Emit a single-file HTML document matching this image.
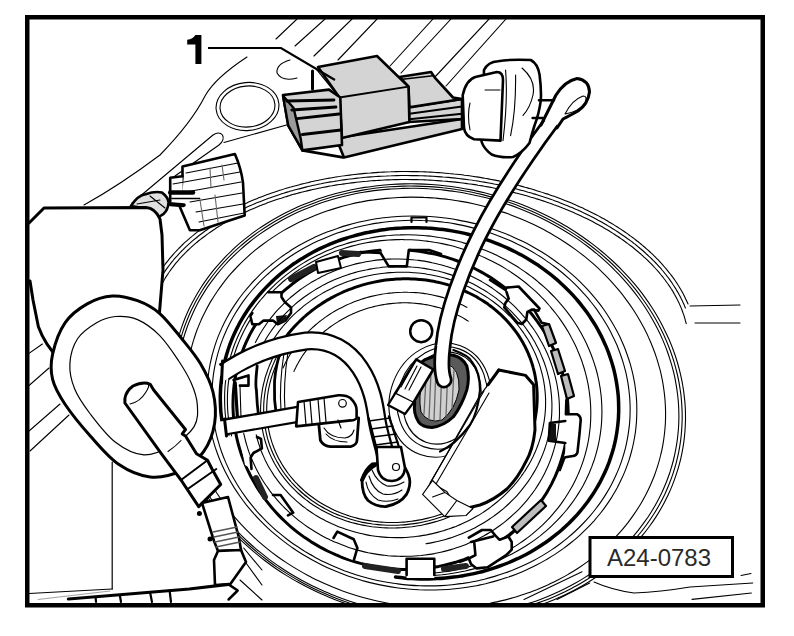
<!DOCTYPE html>
<html><head><meta charset="utf-8">
<style>
html,body{margin:0;padding:0;background:#fff;}
body{width:794px;height:636px;overflow:hidden;position:relative;}
svg{position:absolute;left:0;top:0;}
</style></head><body>
<svg width="794" height="636" viewBox="0 0 794 636">
<defs><clipPath id="cp"><rect x="29" y="19" width="732" height="585"/></clipPath></defs>
<g fill="none" stroke="#000" stroke-linecap="round" stroke-linejoin="round" clip-path="url(#cp)">
<g id="panel" stroke-width="1.1">
<path d="M247 57 Q215 78 205 96 Q192 122 160 155 Q120 185 84 205"/>
<path d="M132 203 L213 135 Q219 131 222.5 135 Q225 140 219 145 L175 176"/>
<ellipse cx="247.5" cy="106.5" rx="31.5" ry="24" transform="rotate(-5 247.5 106.5)"/>
<ellipse cx="247.5" cy="106.5" rx="27.5" ry="20.5" transform="rotate(-5 247.5 106.5)"/>
<path d="M290 60 Q276 64 277 73 Q282 82 297 78"/>
<path d="M224 142.5 L290 124"/>
<path d="M276 39 L297 19 M295 46 L325 19 M314 56 L352 19 M338 60 L377 19 M390 66 L433 19 M401 73 L451 19 M434 78 L489 19 M446 86 L506 19"/>
<path d="M29 353.4 L42.4 344 M29 385.5 L49 368 M29 431 L60 404 M30 451 L69 415"/>
<path d="M690 306 L740 305 M695 323 L740 323"/>
<path d="M594 582 Q612 590 634 593 Q660 592 690 587 L752.7 583"/>
<path d="M692 599.4 L751.4 593 M741 575.5 L751 573.5"/>
<path d="M524 599.4 L582 571.7 M557 599.4 L589.7 583"/>
<path d="M411.5 222 L411.5 217.5 L426.5 217.5 L426.5 222" stroke-width="2.2"/>
</g>

<g stroke-width="1.1">
<path d="M149.7 291.4 C149.9 290.9 150.6 289.4 151 288.4 C151.4 287.4 151.9 286.4 152.4 285.4 C152.8 284.4 153.3 283.4 153.8 282.4 C154.3 281.4 154.9 280.4 155.4 279.4 C155.9 278.5 156.5 277.5 157.1 276.5 C157.6 275.5 158.2 274.5 158.8 273.6 C159.4 272.6 160 271.6 160.7 270.7 C161.3 269.7 161.9 268.8 162.6 267.8 C163.3 266.9 163.9 265.9 164.6 265 C165.3 264 166 263.1 166.8 262.1 C167.5 261.2 168.2 260.3 169 259.3 C169.7 258.4 170.5 257.5 171.3 256.6 C172.1 255.7 172.9 254.8 173.7 253.8 C174.5 252.9 175.3 252 176.2 251.1 C177 250.2 177.9 249.4 178.7 248.5 C179.6 247.6 180.5 246.7 181.4 245.8 C182.3 244.9 183.2 244.1 184.1 243.2 C185.1 242.3 186 241.5 187 240.6 C187.9 239.8 188.9 238.9 189.9 238.1 C190.9 237.3 191.8 236.4 192.9 235.6 C193.9 234.8 194.9 233.9 195.9 233.1 C197 232.3 198 231.5 199.1 230.7 C200.2 229.9 201.2 229.1 202.3 228.3 C203.4 227.5 204.5 226.7 205.6 225.9 C206.8 225.2 207.9 224.4 209 223.6 C210.2 222.9 211.3 222.1 212.5 221.4 C213.7 220.6 214.8 219.9 216 219.1 C217.2 218.4 218.4 217.7 219.6 216.9 C220.9 216.2 222.1 215.5 223.3 214.8 C224.6 214.1 225.8 213.4 227.1 212.7 C228.3 212 229.6 211.3 230.9 210.7 C232.2 210 233.5 209.3 234.8 208.6 C236.1 208 237.4 207.3 238.8 206.7 C240.1 206 241.4 205.4 242.8 204.8 C244.1 204.1 245.5 203.5 246.9 202.9 C248.2 202.3 249.6 201.7 251 201.1 C252.4 200.5 253.8 199.9 255.2 199.3 C256.6 198.7 258.1 198.2 259.5 197.6 C260.9 197 262.4 196.5 263.8 195.9 C265.3 195.4 266.7 194.8 268.2 194.3 C269.7 193.8 271.1 193.2 272.6 192.7 C274.1 192.2 275.6 191.7 277.1 191.2 C278.6 190.7 280.1 190.2 281.7 189.8 C283.2 189.3 284.7 188.8 286.3 188.3 C287.8 187.9 289.3 187.4 290.9 187 C292.4 186.5 294 186.1 295.6 185.7 C297.1 185.3 298.7 184.9 300.3 184.4 C301.9 184 303.5 183.6 305.1 183.3 C306.7 182.9 308.3 182.5 309.9 182.1 C311.5 181.7 313.1 181.4 314.7 181 C316.4 180.7 318 180.3 319.6 180 C321.3 179.7 322.9 179.4 324.6 179 C326.2 178.7 327.9 178.4 329.5 178.1 C331.2 177.8 332.8 177.6 334.5 177.3 C336.2 177 337.9 176.7 339.5 176.5 C341.2 176.2 342.9 176 344.6 175.8 C346.3 175.5 348 175.3 349.7 175.1 C351.4 174.9 353.1 174.7 354.8 174.5 C356.5 174.3 358.2 174.1 359.9 173.9 C361.6 173.7 363.3 173.6 365 173.4 C366.8 173.2 368.5 173.1 370.2 173 C371.9 172.8 373.7 172.7 375.4 172.6 C377.1 172.5 378.9 172.3 380.6 172.2 C382.3 172.1 384.1 172.1 385.8 172 C387.5 171.9 389.3 171.8 391 171.8 C392.8 171.7 394.5 171.7 396.3 171.6 C398 171.6 399.8 171.6 401.5 171.5 C403.3 171.5 405 171.5 406.8 171.5 C408.5 171.5 410.3 171.5 412 171.6 C413.8 171.6 415.5 171.6 417.3 171.6 C419 171.7 420.8 171.7 422.5 171.8 C424.3 171.9 426 171.9 427.8 172 C429.6 172.1 431.3 172.2 433.1 172.3 C434.8 172.4 436.6 172.5 438.3 172.6 C440.1 172.7 441.8 172.9 443.5 173 C445.3 173.1 447 173.3 448.8 173.5 C450.5 173.6 452.3 173.8 454 174 C455.7 174.1 457.5 174.3 459.2 174.5 C461 174.7 462.7 174.9 464.4 175.2 C466.1 175.4 467.9 175.6 469.6 175.8 C471.3 176.1 473 176.3 474.8 176.6 C476.5 176.8 478.2 177.1 479.9 177.4 C481.6 177.7 483.3 178 485 178.3 C486.7 178.5 488.4 178.9 490.1 179.2 C491.8 179.5 493.5 179.8 495.2 180.1 C496.9 180.5 498.6 180.8 500.2 181.2 C501.9 181.5 503.6 181.9 505.3 182.3 C506.9 182.6 508.6 183 510.2 183.4 C511.9 183.8 513.6 184.2 515.2 184.6 C516.8 185 518.5 185.4 520.1 185.9 C521.8 186.3 523.4 186.7 525 187.2 C526.6 187.6 528.2 188.1 529.8 188.5 C531.5 189 533.1 189.5 534.7 189.9 C536.2 190.4 537.8 190.9 539.4 191.4 C541 191.9 542.6 192.4 544.1 192.9 C545.7 193.4 547.3 194 548.8 194.5 C550.4 195 551.9 195.6 553.4 196.1 C555 196.7 556.5 197.2 558 197.8 C559.5 198.4 561 199 562.5 199.5 C564 200.1 565.5 200.7 567 201.3 C568.5 201.9 570 202.5 571.5 203.1 C572.9 203.8 574.4 204.4 575.8 205 C577.3 205.6 578.7 206.3 580.1 206.9 C581.6 207.6 583 208.2 584.4 208.9 C585.8 209.6 587.2 210.2 588.6 210.9 C590 211.6 591.4 212.3 592.7 213 C594.1 213.7 595.5 214.4 596.8 215.1 C598.2 215.8 599.5 216.5 600.8 217.2 C602.1 218 603.5 218.7 604.8 219.4 C606.1 220.2 607.4 220.9 608.6 221.7 C609.9 222.4 611.2 223.2 612.5 223.9 C613.7 224.7 615 225.5 616.2 226.3 C617.4 227 618.7 227.8 619.9 228.6 C621.1 229.4 622.3 230.2 623.5 231 C624.6 231.8 625.8 232.6 627 233.4 C628.1 234.3 629.3 235.1 630.4 235.9 C631.6 236.7 632.7 237.6 633.8 238.4 C634.9 239.3 636 240.1 637.1 241 C638.2 241.8 639.3 242.7 640.3 243.5 C641.4 244.4 642.4 245.3 643.5 246.2 C644.5 247 645.5 247.9 646.5 248.8 C647.5 249.7 648.5 250.6 649.5 251.5 C650.5 252.4 651.4 253.3 652.4 254.2 C653.3 255.1 654.3 256 655.2 256.9 C656.1 257.9 657 258.8 657.9 259.7 C658.8 260.6 659.7 261.6 660.6 262.5 C661.4 263.4 662.3 264.4 663.1 265.3 C664 266.3 664.8 267.2 665.6 268.2 C666.4 269.1 667.2 270.1 668 271.1 C668.7 272 669.5 273 670.3 274 C671 274.9 671.7 275.9 672.5 276.9 C673.2 277.9 673.9 278.8 674.6 279.8 C675.2 280.8 675.9 281.8 676.6 282.8 C677.2 283.8 677.9 284.8 678.5 285.8 C679.1 286.8 679.7 287.8 680.3 288.8 C680.9 289.8 681.5 290.8 682.1 291.8 C682.6 292.8 683.2 293.8 683.7 294.8 C684.2 295.8 684.7 296.9 685.2 297.9 C685.7 298.9 686.2 299.9 686.7 300.9 C687.2 302 687.8 303.5 688.1 304"/>
<path d="M153.6 292.4 C153.8 291.9 154.4 290.4 154.9 289.5 C155.3 288.5 155.7 287.5 156.2 286.5 C156.7 285.6 157.2 284.6 157.7 283.6 C158.2 282.7 158.7 281.7 159.2 280.7 C159.7 279.8 160.3 278.8 160.8 277.9 C161.4 276.9 162 276 162.6 275 C163.1 274.1 163.8 273.1 164.4 272.2 C165 271.2 165.6 270.3 166.3 269.4 C166.9 268.5 167.6 267.5 168.3 266.6 C169 265.7 169.7 264.8 170.4 263.9 C171.1 262.9 171.8 262 172.6 261.1 C173.3 260.2 174.1 259.3 174.8 258.4 C175.6 257.5 176.4 256.6 177.2 255.8 C178 254.9 178.8 254 179.6 253.1 C180.5 252.2 181.3 251.4 182.2 250.5 C183 249.6 183.9 248.8 184.8 247.9 C185.7 247.1 186.6 246.2 187.5 245.4 C188.4 244.5 189.3 243.7 190.3 242.9 C191.2 242 192.2 241.2 193.1 240.4 C194.1 239.6 195.1 238.8 196.1 238 C197.1 237.1 198.1 236.3 199.1 235.5 C200.1 234.8 201.2 234 202.2 233.2 C203.3 232.4 204.3 231.6 205.4 230.8 C206.5 230.1 207.6 229.3 208.7 228.6 C209.8 227.8 210.9 227 212 226.3 C213.1 225.6 214.3 224.8 215.4 224.1 C216.6 223.3 217.7 222.6 218.9 221.9 C220.1 221.2 221.3 220.5 222.5 219.8 C223.7 219.1 224.9 218.4 226.1 217.7 C227.3 217 228.6 216.3 229.8 215.6 C231 215 232.3 214.3 233.6 213.6 C234.8 213 236.1 212.3 237.4 211.7 C238.7 211 240 210.4 241.3 209.8 C242.6 209.1 243.9 208.5 245.3 207.9 C246.6 207.3 247.9 206.7 249.3 206.1 C250.7 205.5 252 204.9 253.4 204.3 C254.8 203.7 256.1 203.1 257.5 202.6 C258.9 202 260.3 201.4 261.7 200.9 C263.2 200.3 264.6 199.8 266 199.3 C267.4 198.7 268.9 198.2 270.3 197.7 C271.8 197.2 273.2 196.7 274.7 196.2 C276.2 195.7 277.6 195.2 279.1 194.7 C280.6 194.2 282.1 193.7 283.6 193.3 C285.1 192.8 286.6 192.3 288.1 191.9 C289.6 191.4 291.2 191 292.7 190.6 C294.2 190.1 295.8 189.7 297.3 189.3 C298.8 188.9 300.4 188.5 302 188.1 C303.5 187.7 305.1 187.3 306.7 186.9 C308.2 186.5 309.8 186.2 311.4 185.8 C313 185.5 314.6 185.1 316.2 184.8 C317.8 184.4 319.4 184.1 321 183.8 C322.6 183.4 324.2 183.1 325.9 182.8 C327.5 182.5 329.1 182.2 330.7 181.9 C332.4 181.7 334 181.4 335.7 181.1 C337.3 180.8 339 180.6 340.6 180.3 C342.3 180.1 343.9 179.9 345.6 179.6 C347.3 179.4 348.9 179.2 350.6 179 C352.3 178.8 353.9 178.6 355.6 178.4 C357.3 178.2 359 178 360.7 177.8 C362.4 177.6 364.1 177.5 365.8 177.3 C367.4 177.2 369.1 177 370.8 176.9 C372.5 176.8 374.2 176.6 376 176.5 C377.7 176.4 379.4 176.3 381.1 176.2 C382.8 176.1 384.5 176 386.2 176 C387.9 175.9 389.7 175.8 391.4 175.8 C393.1 175.7 394.8 175.7 396.5 175.6 C398.3 175.6 400 175.6 401.7 175.5 C403.4 175.5 405.2 175.5 406.9 175.5 C408.6 175.5 410.3 175.5 412.1 175.6 C413.8 175.6 415.5 175.6 417.2 175.6 C419 175.7 420.7 175.7 422.4 175.8 C424.2 175.9 425.9 175.9 427.6 176 C429.3 176.1 431.1 176.2 432.8 176.3 C434.5 176.4 436.2 176.5 438 176.6 C439.7 176.7 441.4 176.8 443.1 177 C444.9 177.1 446.6 177.3 448.3 177.4 C450 177.6 451.7 177.7 453.4 177.9 C455.2 178.1 456.9 178.3 458.6 178.5 C460.3 178.7 462 178.9 463.7 179.1 C465.4 179.3 467.1 179.5 468.8 179.8 C470.5 180 472.2 180.2 473.9 180.5 C475.6 180.7 477.3 181 479 181.3 C480.7 181.6 482.3 181.8 484 182.1 C485.7 182.4 487.4 182.7 489 183 C490.7 183.3 492.4 183.6 494 184 C495.7 184.3 497.4 184.6 499 185 C500.7 185.3 502.3 185.7 504 186 C505.6 186.4 507.2 186.8 508.9 187.2 C510.5 187.5 512.1 187.9 513.8 188.3 C515.4 188.7 517 189.1 518.6 189.6 C520.2 190 521.8 190.4 523.4 190.8 C525 191.3 526.6 191.7 528.2 192.2 C529.8 192.6 531.4 193.1 532.9 193.6 C534.5 194 536.1 194.5 537.6 195 C539.2 195.5 540.7 196 542.3 196.5 C543.8 197 545.4 197.5 546.9 198 C548.4 198.5 549.9 199.1 551.4 199.6 C553 200.1 554.5 200.7 556 201.2 C557.5 201.8 558.9 202.4 560.4 202.9 C561.9 203.5 563.4 204.1 564.8 204.7 C566.3 205.2 567.8 205.8 569.2 206.4 C570.6 207 572.1 207.7 573.5 208.3 C574.9 208.9 576.4 209.5 577.8 210.1 C579.2 210.8 580.6 211.4 582 212.1 C583.3 212.7 584.7 213.4 586.1 214 C587.5 214.7 588.8 215.4 590.2 216.1 C591.5 216.7 592.9 217.4 594.2 218.1 C595.5 218.8 596.8 219.5 598.1 220.2 C599.5 220.9 600.8 221.6 602 222.3 C603.3 223.1 604.6 223.8 605.9 224.5 C607.1 225.3 608.4 226 609.6 226.8 C610.9 227.5 612.1 228.3 613.3 229 C614.5 229.8 615.7 230.5 616.9 231.3 C618.1 232.1 619.3 232.9 620.5 233.7 C621.6 234.4 622.8 235.2 623.9 236 C625.1 236.8 626.2 237.6 627.3 238.5 C628.5 239.3 629.6 240.1 630.7 240.9 C631.8 241.7 632.9 242.6 633.9 243.4 C635 244.2 636.1 245.1 637.1 245.9 C638.1 246.8 639.2 247.6 640.2 248.5 C641.2 249.3 642.2 250.2 643.2 251 C644.2 251.9 645.2 252.8 646.1 253.7 C647.1 254.5 648.1 255.4 649 256.3 C649.9 257.2 650.9 258.1 651.8 259 C652.7 259.9 653.6 260.8 654.5 261.7 C655.3 262.6 656.2 263.5 657.1 264.4 C657.9 265.3 658.8 266.3 659.6 267.2 C660.4 268.1 661.2 269 662 270 C662.8 270.9 663.6 271.8 664.4 272.8 C665.1 273.7 665.9 274.6 666.6 275.6 C667.3 276.5 668.1 277.5 668.8 278.4 C669.5 279.4 670.2 280.4 670.9 281.3 C671.5 282.3 672.2 283.2 672.8 284.2 C673.5 285.2 674.1 286.2 674.7 287.1 C675.4 288.1 676 289.1 676.5 290.1 C677.1 291 677.7 292 678.3 293 C678.8 294 679.3 295 679.9 296 C680.4 297 680.9 298 681.4 299 C681.9 299.9 682.4 300.9 682.8 301.9 C683.3 302.9 683.7 303.9 684.2 305 C684.6 306 685.2 307.5 685.4 308"/>
<path d="M157.5 293.4 C157.7 292.9 158.3 291.5 158.7 290.5 C159.1 289.6 159.6 288.6 160 287.7 C160.5 286.7 161 285.8 161.5 284.8 C162 283.9 162.5 283 163 282 C163.5 281.1 164 280.2 164.6 279.2 C165.1 278.3 165.7 277.4 166.3 276.4 C166.9 275.5 167.5 274.6 168.1 273.7 C168.7 272.8 169.3 271.9 170 271 C170.6 270.1 171.3 269.2 171.9 268.3 C172.6 267.4 173.3 266.5 174 265.6 C174.7 264.7 175.4 263.8 176.1 262.9 C176.9 262 177.6 261.2 178.4 260.3 C179.1 259.4 179.9 258.5 180.7 257.7 C181.5 256.8 182.3 256 183.1 255.1 C183.9 254.3 184.8 253.4 185.6 252.6 C186.4 251.7 187.3 250.9 188.2 250 C189.1 249.2 189.9 248.4 190.8 247.6 C191.7 246.7 192.7 245.9 193.6 245.1 C194.5 244.3 195.5 243.5 196.4 242.7 C197.4 241.9 198.3 241.1 199.3 240.3 C200.3 239.5 201.3 238.8 202.3 238 C203.3 237.2 204.3 236.4 205.4 235.7 C206.4 234.9 207.4 234.1 208.5 233.4 C209.6 232.6 210.6 231.9 211.7 231.2 C212.8 230.4 213.9 229.7 215 229 C216.1 228.2 217.2 227.5 218.4 226.8 C219.5 226.1 220.6 225.4 221.8 224.7 C223 224 224.1 223.3 225.3 222.6 C226.5 221.9 227.7 221.2 228.9 220.6 C230.1 219.9 231.3 219.2 232.5 218.6 C233.8 217.9 235 217.3 236.2 216.6 C237.5 216 238.7 215.3 240 214.7 C241.3 214.1 242.6 213.5 243.9 212.8 C245.2 212.2 246.5 211.6 247.8 211 C249.1 210.4 250.4 209.8 251.7 209.2 C253.1 208.7 254.4 208.1 255.8 207.5 C257.1 207 258.5 206.4 259.8 205.8 C261.2 205.3 262.6 204.7 264 204.2 C265.4 203.7 266.8 203.1 268.2 202.6 C269.6 202.1 271 201.6 272.4 201.1 C273.9 200.6 275.3 200.1 276.8 199.6 C278.2 199.1 279.6 198.6 281.1 198.2 C282.6 197.7 284 197.2 285.5 196.8 C287 196.3 288.5 195.9 290 195.4 C291.5 195 293 194.6 294.5 194.1 C296 193.7 297.5 193.3 299 192.9 C300.5 192.5 302.1 192.1 303.6 191.7 C305.2 191.3 306.7 191 308.2 190.6 C309.8 190.2 311.4 189.9 312.9 189.5 C314.5 189.2 316.1 188.8 317.6 188.5 C319.2 188.2 320.8 187.8 322.4 187.5 C324 187.2 325.6 186.9 327.2 186.6 C328.8 186.3 330.4 186 332 185.8 C333.6 185.5 335.2 185.2 336.8 184.9 C338.4 184.7 340.1 184.4 341.7 184.2 C343.3 184 345 183.7 346.6 183.5 C348.2 183.3 349.9 183.1 351.5 182.9 C353.2 182.7 354.8 182.5 356.5 182.3 C358.1 182.1 359.8 181.9 361.5 181.7 C363.1 181.6 364.8 181.4 366.5 181.3 C368.1 181.1 369.8 181 371.5 180.8 C373.2 180.7 374.8 180.6 376.5 180.5 C378.2 180.4 379.9 180.3 381.6 180.2 C383.3 180.1 384.9 180 386.6 179.9 C388.3 179.9 390 179.8 391.7 179.7 C393.4 179.7 395.1 179.6 396.8 179.6 C398.5 179.6 400.2 179.6 401.9 179.5 C403.6 179.5 405.3 179.5 407 179.5 C408.7 179.5 410.4 179.5 412.1 179.6 C413.8 179.6 415.5 179.6 417.2 179.6 C418.9 179.7 420.6 179.7 422.3 179.8 C424 179.9 425.7 179.9 427.4 180 C429.1 180.1 430.8 180.2 432.5 180.3 C434.2 180.4 435.9 180.5 437.6 180.6 C439.3 180.7 441 180.8 442.7 181 C444.4 181.1 446.1 181.2 447.8 181.4 C449.5 181.5 451.2 181.7 452.9 181.9 C454.6 182.1 456.2 182.2 457.9 182.4 C459.6 182.6 461.3 182.8 463 183 C464.7 183.2 466.3 183.5 468 183.7 C469.7 183.9 471.4 184.2 473 184.4 C474.7 184.6 476.4 184.9 478 185.2 C479.7 185.4 481.3 185.7 483 186 C484.7 186.3 486.3 186.6 488 186.9 C489.6 187.2 491.2 187.5 492.9 187.8 C494.5 188.1 496.2 188.4 497.8 188.8 C499.4 189.1 501 189.5 502.7 189.8 C504.3 190.2 505.9 190.5 507.5 190.9 C509.1 191.3 510.7 191.7 512.3 192.1 C513.9 192.5 515.5 192.9 517.1 193.3 C518.7 193.7 520.3 194.1 521.8 194.5 C523.4 194.9 525 195.4 526.5 195.8 C528.1 196.3 529.6 196.7 531.2 197.2 C532.7 197.6 534.3 198.1 535.8 198.6 C537.4 199 538.9 199.5 540.4 200 C541.9 200.5 543.4 201 545 201.5 C546.5 202 548 202.5 549.4 203.1 C550.9 203.6 552.4 204.1 553.9 204.7 C555.4 205.2 556.8 205.8 558.3 206.3 C559.8 206.9 561.2 207.4 562.6 208 C564.1 208.6 565.5 209.2 566.9 209.7 C568.4 210.3 569.8 210.9 571.2 211.5 C572.6 212.1 574 212.7 575.4 213.4 C576.8 214 578.2 214.6 579.5 215.2 C580.9 215.9 582.3 216.5 583.6 217.2 C585 217.8 586.3 218.5 587.6 219.1 C589 219.8 590.3 220.5 591.6 221.1 C592.9 221.8 594.2 222.5 595.5 223.2 C596.8 223.9 598 224.6 599.3 225.3 C600.6 226 601.8 226.7 603.1 227.4 C604.3 228.1 605.6 228.8 606.8 229.6 C608 230.3 609.2 231 610.4 231.8 C611.6 232.5 612.8 233.3 614 234 C615.2 234.8 616.3 235.6 617.5 236.3 C618.6 237.1 619.8 237.9 620.9 238.6 C622 239.4 623.2 240.2 624.3 241 C625.4 241.8 626.5 242.6 627.5 243.4 C628.6 244.2 629.7 245 630.7 245.8 C631.8 246.6 632.8 247.4 633.9 248.3 C634.9 249.1 635.9 249.9 636.9 250.8 C637.9 251.6 638.9 252.4 639.9 253.3 C640.9 254.1 641.8 255 642.8 255.8 C643.7 256.7 644.7 257.6 645.6 258.4 C646.5 259.3 647.4 260.2 648.3 261 C649.2 261.9 650.1 262.8 651 263.7 C651.9 264.6 652.7 265.4 653.5 266.3 C654.4 267.2 655.2 268.1 656 269 C656.8 269.9 657.6 270.8 658.4 271.7 C659.2 272.6 660 273.6 660.7 274.5 C661.5 275.4 662.2 276.3 663 277.2 C663.7 278.2 664.4 279.1 665.1 280 C665.8 281 666.5 281.9 667.1 282.8 C667.8 283.8 668.5 284.7 669.1 285.6 C669.7 286.6 670.4 287.5 671 288.5 C671.6 289.4 672.2 290.4 672.8 291.3 C673.3 292.3 673.9 293.3 674.4 294.2 C675 295.2 675.5 296.2 676 297.1 C676.6 298.1 677.1 299.1 677.5 300 C678 301 678.5 302 679 302.9 C679.4 303.9 679.8 304.9 680.3 305.9 C680.7 306.9 681.1 307.8 681.5 308.8 C681.9 309.8 682.3 310.8 682.6 311.8 C683 312.8 683.3 313.8 683.7 314.7 C684 315.7 684.3 316.7 684.6 317.7 C684.9 318.7 685.2 319.7 685.4 320.7 C685.7 321.7 686.1 323.2 686.2 323.7"/>
<path d="M681.9 453.3 C681.2 457 680.3 460.7 679.3 464.3 C678.3 468 677.2 471.6 676 475.2 C674.8 478.8 673.5 482.4 672.1 485.9 C670.7 489.4 669.1 492.9 667.5 496.3 C665.8 499.8 664.1 503.2 662.2 506.5 C660.3 509.9 658.3 513.2 656.3 516.4 C654.2 519.7 652 522.9 649.7 526 C647.4 529.1 645.1 532.2 642.6 535.2 C640.1 538.3 637.5 541.2 634.8 544.1 C632.2 547 629.4 549.9 626.5 552.6 C623.7 555.4 620.7 558.1 617.7 560.7 C614.7 563.3 611.5 565.9 608.3 568.3 C605.1 570.8 601.8 573.2 598.5 575.5 C595.1 577.8 591.7 580.1 588.2 582.2 C584.7 584.4 581.1 586.5 577.4 588.5 C573.8 590.5 570 592.4 566.2 594.2 C562.5 596 558.6 597.7 554.7 599.4 C550.8 601 546.8 602.6 542.8 604 C538.8 605.5 534.7 606.8 530.6 608.1 C526.5 609.4 522.3 610.5 518.1 611.6 C513.9 612.7 509.7 613.7 505.4 614.6 C501.1 615.5 496.8 616.3 492.5 617 C488.1 617.6 483.7 618.2 479.3 618.7 C474.9 619.2 470.5 619.6 466.1 619.9 C461.7 620.2 457.2 620.4 452.7 620.5 C448.3 620.6 443.8 620.6 439.3 620.5 C434.8 620.4 430.3 620.2 425.9 619.9 C421.4 619.6 416.9 619.2 412.4 618.7 C407.9 618.2 403.5 617.6 399 616.9 C394.6 616.2 390.1 615.4 385.7 614.5 C381.3 613.6 376.9 612.6 372.5 611.6 C368.1 610.5 363.8 609.3 359.4 608 C355.1 606.7 350.8 605.4 346.6 603.9 C342.3 602.5 338.1 600.9 333.9 599.3 C329.8 597.6 325.6 595.9 321.6 594.1 C317.5 592.2 313.5 590.3 309.5 588.3 C305.5 586.4 301.6 584.3 297.7 582.1 C293.9 580 290.1 577.7 286.3 575.4 C282.6 573.1 278.9 570.7 275.3 568.2 C271.7 565.7 268.2 563.2 264.7 560.5 C261.3 557.9 257.9 555.2 254.6 552.4 C251.3 549.7 248.1 546.8 244.9 543.9 C241.8 541 238.7 538.1 235.8 535.1 C232.8 532 229.9 528.9 227.1 525.8 C224.3 522.7 221.6 519.5 219 516.2 C216.4 513 213.9 509.7 211.5 506.3 C209.1 503 206.8 499.6 204.6 496.1 C202.4 492.7 200.3 489.2 198.3 485.7 C196.3 482.1 194.4 478.6 192.7 475 C190.9 471.4 189.2 467.8 187.6 464.1 C186.1 460.5 184.6 456.8 183.3 453.1 C181.9 449.4 180.7 445.6 179.6 441.9 C178.5 438.1 177.5 434.4 176.6 430.6 C175.7 426.8 174.9 423 174.3 419.2 C173.6 415.4 173.1 411.6 172.7 407.8 C172.2 404 171.9 400.2 171.7 396.4 C171.5 392.6 171.5 388.7 171.5 384.9 C171.6 381.2 171.7 377.4 172 373.6 C172.3 369.8 172.7 366 173.2 362.3 C173.7 358.5 174.4 354.8 175.1 351.1 C175.8 347.4 176.7 343.7 177.7 340.1 C178.7 336.4 179.8 332.8 181 329.2 C182.2 325.6 183.5 322 184.9 318.5 C186.3 315 187.9 311.5 189.5 308.1 C191.2 304.6 192.9 301.2 194.8 297.9 C196.7 294.5 198.7 291.2 200.7 288 C202.8 284.7 205 281.5 207.3 278.4 C209.6 275.3 211.9 272.2 214.4 269.2 C216.9 266.1 219.5 263.2 222.2 260.3 C224.8 257.4 227.6 254.5 230.5 251.8 C233.3 249 236.3 246.3 239.3 243.7 C242.3 241.1 245.5 238.5 248.7 236.1 C251.9 233.6 255.2 231.2 258.5 228.9 C261.9 226.6 265.3 224.3 268.8 222.2 C272.3 220 275.9 217.9 279.6 215.9 C283.2 213.9 287 212 290.8 210.2 C294.5 208.4 298.4 206.7 302.3 205 C306.2 203.4 310.2 201.8 314.2 200.4 C318.2 198.9 322.3 197.6 326.4 196.3 C330.5 195 334.7 193.9 338.9 192.8 C343.1 191.7 347.3 190.7 351.6 189.8 C355.9 188.9 360.2 188.1 364.5 187.4 C368.9 186.8 373.3 186.2 377.7 185.7 C382.1 185.2 386.5 184.8 390.9 184.5 C395.3 184.2 399.8 184 404.3 183.9 C408.7 183.8 413.2 183.8 417.7 183.9 C422.2 184 426.7 184.2 431.1 184.5 C435.6 184.8 440.1 185.2 444.6 185.7 C449.1 186.2 453.5 186.8 458 187.5 C462.4 188.2 466.9 189 471.3 189.9 C475.7 190.8 480.1 191.8 484.5 192.8 C488.9 193.9 493.2 195.1 497.6 196.4 C501.9 197.7 506.2 199 510.4 200.5 C514.7 201.9 518.9 203.5 523.1 205.1 C527.2 206.8 531.4 208.5 535.4 210.3 C539.5 212.2 543.5 214.1 547.5 216.1 C551.5 218 555.4 220.1 559.3 222.3 C563.1 224.4 566.9 226.7 570.7 229 C574.4 231.3 578.1 233.7 581.7 236.2 C585.3 238.7 588.8 241.2 592.3 243.9 C595.7 246.5 599.1 249.2 602.4 252 C605.7 254.7 608.9 257.6 612.1 260.5 C615.2 263.4 618.3 266.3 621.2 269.3 C624.2 272.4 627.1 275.5 629.9 278.6 C632.7 281.7 635.4 284.9 638 288.2 C640.6 291.4 643.1 294.7 645.5 298.1 C647.9 301.4 650.2 304.8 652.4 308.3 C654.6 311.7 656.7 315.2 658.7 318.7 C660.7 322.3 662.6 325.8 664.3 329.4 C666.1 333 667.8 336.6 669.4 340.3 C670.9 343.9 672.4 347.6 673.7 351.3 C675.1 355 676.3 358.8 677.4 362.5 C678.5 366.3 679.5 370 680.4 373.8 C681.3 377.6 682.1 381.4 682.7 385.2 C683.4 389 683.9 392.8 684.3 396.6 C684.8 400.4 685.1 404.2 685.3 408 C685.5 411.8 685.5 415.7 685.5 419.5 C685.4 423.2 685.3 427 685 430.8 C684.7 434.6 684.3 438.4 683.8 442.1 C683.3 445.9 682.6 449.6 681.9 453.3Z"/>
<path d="M678.8 451.7 C678 455.4 677.2 459 676.3 462.6 C675.3 466.3 674.2 469.9 673.1 473.4 C671.9 477 670.6 480.5 669.2 484 C667.8 487.5 666.3 491 664.7 494.4 C663 497.8 661.3 501.2 659.5 504.5 C657.7 507.8 655.7 511.1 653.7 514.3 C651.6 517.5 649.5 520.7 647.2 523.8 C645 527 642.7 530 640.2 533 C637.8 536 635.2 539 632.6 541.9 C630 544.7 627.2 547.6 624.4 550.3 C621.6 553.1 618.7 555.7 615.7 558.4 C612.7 561 609.6 563.5 606.5 566 C603.3 568.4 600.1 570.8 596.8 573.1 C593.5 575.4 590.1 577.7 586.6 579.8 C583.1 582 579.6 584.1 576 586 C572.4 588 568.7 589.9 565 591.8 C561.2 593.6 557.4 595.3 553.6 596.9 C549.7 598.6 545.8 600.1 541.8 601.6 C537.9 603.1 533.9 604.4 529.8 605.7 C525.7 607 521.6 608.2 517.5 609.3 C513.3 610.3 509.1 611.3 504.9 612.2 C500.7 613.1 496.4 613.9 492.1 614.6 C487.8 615.4 483.5 616 479.2 616.5 C474.8 617 470.4 617.4 466.1 617.7 C461.7 618 457.3 618.2 452.9 618.4 C448.4 618.5 444 618.5 439.6 618.4 C435.2 618.3 430.7 618.2 426.3 617.9 C421.8 617.6 417.4 617.2 413 616.8 C408.6 616.3 404.1 615.7 399.7 615 C395.3 614.4 390.9 613.6 386.5 612.7 C382.2 611.9 377.8 610.9 373.5 609.9 C369.2 608.8 364.8 607.7 360.6 606.4 C356.3 605.2 352 603.8 347.8 602.4 C343.6 601 339.5 599.5 335.3 597.9 C331.2 596.3 327.1 594.6 323.1 592.8 C319 591 315 589.1 311.1 587.2 C307.2 585.2 303.3 583.2 299.5 581 C295.6 578.9 291.9 576.7 288.2 574.4 C284.5 572.1 280.8 569.8 277.2 567.4 C273.7 564.9 270.2 562.4 266.7 559.8 C263.3 557.2 260 554.6 256.7 551.9 C253.4 549.1 250.2 546.3 247.1 543.5 C244 540.6 241 537.7 238 534.7 C235.1 531.7 232.2 528.7 229.4 525.6 C226.7 522.5 224 519.3 221.4 516.1 C218.8 512.9 216.3 509.7 214 506.4 C211.6 503 209.3 499.7 207.1 496.3 C204.9 492.9 202.8 489.5 200.8 486 C198.8 482.5 196.9 479 195.2 475.4 C193.4 471.9 191.7 468.3 190.2 464.7 C188.6 461.1 187.2 457.4 185.8 453.8 C184.5 450.1 183.2 446.4 182.1 442.7 C181 439 180 435.3 179.1 431.5 C178.2 427.8 177.4 424 176.8 420.3 C176.1 416.5 175.6 412.7 175.1 409 C174.7 405.2 174.4 401.4 174.2 397.7 C174 393.9 173.9 390.1 173.9 386.4 C174 382.6 174.1 378.8 174.4 375.1 C174.6 371.3 175 367.6 175.5 363.9 C176 360.2 176.6 356.5 177.3 352.8 C178.1 349.1 178.9 345.5 179.8 341.9 C180.8 338.2 181.9 334.6 183 331.1 C184.2 327.5 185.5 324 186.9 320.5 C188.3 317 189.8 313.5 191.4 310.1 C193.1 306.7 194.8 303.3 196.6 300 C198.4 296.7 200.4 293.4 202.4 290.2 C204.5 287 206.6 283.8 208.9 280.7 C211.1 277.6 213.4 274.5 215.9 271.5 C218.3 268.5 220.9 265.5 223.5 262.6 C226.1 259.8 228.9 256.9 231.7 254.2 C234.5 251.4 237.4 248.8 240.4 246.2 C243.4 243.5 246.5 241 249.6 238.5 C252.8 236.1 256 233.7 259.3 231.4 C262.6 229.1 266 226.8 269.5 224.7 C273 222.5 276.5 220.4 280.1 218.5 C283.7 216.5 287.4 214.6 291.1 212.8 C294.9 210.9 298.7 209.2 302.5 207.6 C306.4 205.9 310.3 204.4 314.3 202.9 C318.2 201.5 322.2 200.1 326.3 198.8 C330.4 197.5 334.5 196.3 338.6 195.3 C342.8 194.2 347 193.2 351.2 192.3 C355.4 191.4 359.7 190.6 364 189.9 C368.3 189.2 372.6 188.5 376.9 188 C381.3 187.5 385.7 187.1 390 186.8 C394.4 186.5 398.8 186.3 403.2 186.1 C407.7 186 412.1 186 416.5 186.1 C420.9 186.2 425.4 186.4 429.8 186.6 C434.3 186.9 438.7 187.3 443.1 187.8 C447.5 188.2 452 188.8 456.4 189.5 C460.8 190.1 465.2 190.9 469.6 191.8 C473.9 192.6 478.3 193.6 482.6 194.6 C486.9 195.7 491.3 196.9 495.5 198.1 C499.8 199.3 504.1 200.7 508.3 202.1 C512.5 203.5 516.6 205 520.8 206.7 C524.9 208.3 529 210 533 211.7 C537.1 213.5 541.1 215.4 545 217.4 C548.9 219.3 552.8 221.3 556.6 223.5 C560.5 225.6 564.2 227.8 567.9 230.1 C571.6 232.4 575.3 234.7 578.9 237.2 C582.4 239.6 585.9 242.1 589.4 244.7 C592.8 247.3 596.1 249.9 599.4 252.7 C602.7 255.4 605.9 258.2 609 261 C612.1 263.9 615.1 266.8 618.1 269.8 C621 272.8 623.9 275.8 626.7 278.9 C629.4 282 632.1 285.2 634.7 288.4 C637.3 291.6 639.8 294.9 642.1 298.2 C644.5 301.5 646.8 304.8 649 308.2 C651.2 311.6 653.3 315.1 655.3 318.5 C657.3 322 659.2 325.5 660.9 329.1 C662.7 332.6 664.4 336.2 665.9 339.8 C667.5 343.4 668.9 347.1 670.3 350.7 C671.6 354.4 672.9 358.1 674 361.8 C675.1 365.5 676.1 369.2 677 373 C677.9 376.7 678.7 380.5 679.3 384.2 C680 388 680.5 391.8 681 395.5 C681.4 399.3 681.7 403.1 681.9 406.9 C682.1 410.6 682.2 414.4 682.2 418.2 C682.1 421.9 682 425.7 681.7 429.4 C681.5 433.2 681.1 436.9 680.6 440.6 C680.1 444.3 679.5 448 678.8 451.7Z"/>
<path d="M675.6 450.1 C674.9 453.8 674.1 457.4 673.2 461 C672.3 464.6 671.2 468.1 670.1 471.7 C668.9 475.2 667.7 478.7 666.3 482.2 C664.9 485.6 663.4 489.1 661.9 492.5 C660.3 495.8 658.6 499.2 656.8 502.5 C655 505.8 653.1 509 651.1 512.2 C649.1 515.5 647 518.6 644.7 521.7 C642.5 524.8 640.2 527.9 637.8 530.8 C635.4 533.8 632.9 536.8 630.3 539.6 C627.8 542.5 625.1 545.3 622.3 548 C619.5 550.8 616.7 553.4 613.7 556 C610.8 558.6 607.7 561.2 604.6 563.6 C601.5 566.1 598.3 568.5 595.1 570.8 C591.8 573.1 588.4 575.3 585 577.4 C581.6 579.6 578.1 581.7 574.6 583.6 C571 585.6 567.4 587.5 563.7 589.3 C560 591.2 556.2 592.9 552.4 594.5 C548.6 596.2 544.8 597.7 540.9 599.2 C536.9 600.7 533 602 529 603.3 C525 604.6 520.9 605.8 516.8 606.9 C512.7 608 508.5 609 504.4 609.9 C500.2 610.8 496 611.6 491.7 612.3 C487.5 613.1 483.2 613.7 478.9 614.2 C474.7 614.7 470.3 615.2 466 615.5 C461.7 615.8 457.3 616.1 453 616.2 C448.6 616.3 444.2 616.4 439.8 616.3 C435.5 616.3 431.1 616.1 426.7 615.9 C422.3 615.6 417.9 615.2 413.5 614.8 C409.2 614.3 404.8 613.8 400.4 613.2 C396.1 612.5 391.7 611.8 387.4 610.9 C383.1 610.1 378.7 609.2 374.5 608.2 C370.2 607.1 365.9 606 361.7 604.8 C357.5 603.6 353.2 602.3 349.1 600.9 C344.9 599.5 340.8 598 336.7 596.4 C332.6 594.9 328.6 593.2 324.6 591.5 C320.6 589.7 316.6 587.9 312.7 586 C308.8 584 305 582 301.2 579.9 C297.4 577.9 293.6 575.7 290 573.5 C286.3 571.2 282.7 568.9 279.2 566.5 C275.6 564.1 272.2 561.6 268.8 559.1 C265.4 556.5 262 553.9 258.8 551.2 C255.5 548.6 252.4 545.8 249.3 543 C246.2 540.2 243.2 537.3 240.3 534.4 C237.3 531.4 234.5 528.4 231.7 525.4 C229 522.3 226.3 519.2 223.8 516 C221.2 512.9 218.7 509.6 216.4 506.4 C214 503.1 211.7 499.8 209.5 496.5 C207.4 493.1 205.3 489.7 203.3 486.3 C201.3 482.8 199.4 479.3 197.7 475.8 C195.9 472.3 194.2 468.8 192.7 465.2 C191.1 461.7 189.7 458 188.3 454.4 C187 450.8 185.8 447.2 184.7 443.5 C183.5 439.8 182.5 436.1 181.6 432.4 C180.7 428.7 179.9 425 179.3 421.3 C178.6 417.6 178.1 413.9 177.6 410.1 C177.2 406.4 176.8 402.7 176.6 398.9 C176.4 395.2 176.3 391.5 176.3 387.7 C176.3 384 176.5 380.3 176.7 376.6 C177 372.9 177.3 369.2 177.8 365.5 C178.3 361.8 178.9 358.1 179.6 354.5 C180.3 350.9 181.1 347.2 182 343.6 C182.9 340.1 184 336.5 185.1 333 C186.3 329.4 187.5 325.9 188.9 322.5 C190.3 319 191.8 315.6 193.3 312.2 C194.9 308.8 196.6 305.4 198.4 302.1 C200.2 298.8 202.1 295.6 204.1 292.4 C206.1 289.2 208.2 286 210.5 282.9 C212.7 279.8 215 276.8 217.4 273.8 C219.8 270.8 222.3 267.9 224.9 265 C227.4 262.1 230.1 259.3 232.9 256.6 C235.7 253.9 238.5 251.2 241.5 248.6 C244.4 246 247.5 243.5 250.6 241 C253.7 238.5 256.9 236.2 260.1 233.9 C263.4 231.6 266.8 229.3 270.2 227.2 C273.6 225 277.1 223 280.6 221 C284.2 219 287.8 217.1 291.5 215.3 C295.2 213.5 299 211.7 302.8 210.1 C306.6 208.4 310.4 206.9 314.3 205.4 C318.3 204 322.2 202.6 326.2 201.3 C330.2 200 334.3 198.8 338.4 197.7 C342.5 196.6 346.7 195.6 350.8 194.7 C355 193.8 359.2 193 363.5 192.3 C367.7 191.6 372 190.9 376.3 190.4 C380.5 189.9 384.9 189.4 389.2 189.1 C393.5 188.8 397.9 188.6 402.2 188.4 C406.6 188.3 411 188.2 415.4 188.3 C419.7 188.4 424.1 188.5 428.5 188.8 C432.9 189 437.3 189.4 441.7 189.8 C446 190.3 450.4 190.8 454.8 191.5 C459.1 192.1 463.5 192.8 467.8 193.7 C472.1 194.5 476.5 195.4 480.7 196.5 C485 197.5 489.3 198.6 493.5 199.8 C497.7 201 502 202.3 506.1 203.7 C510.3 205.1 514.4 206.6 518.5 208.2 C522.6 209.8 526.6 211.4 530.6 213.2 C534.6 214.9 538.6 216.7 542.5 218.7 C546.4 220.6 550.2 222.6 554 224.7 C557.8 226.8 561.6 228.9 565.2 231.2 C568.9 233.4 572.5 235.7 576 238.1 C579.6 240.5 583 243 586.4 245.5 C589.8 248.1 593.2 250.7 596.4 253.4 C599.7 256.1 602.8 258.8 605.9 261.6 C609 264.4 612 267.3 614.9 270.3 C617.9 273.2 620.7 276.2 623.5 279.3 C626.2 282.3 628.9 285.4 631.4 288.6 C634 291.8 636.5 295 638.8 298.2 C641.2 301.5 643.5 304.8 645.7 308.2 C647.8 311.5 649.9 314.9 651.9 318.4 C653.9 321.8 655.8 325.3 657.5 328.8 C659.3 332.3 661 335.8 662.5 339.4 C664.1 343 665.5 346.6 666.9 350.2 C668.2 353.8 669.4 357.5 670.5 361.1 C671.7 364.8 672.7 368.5 673.6 372.2 C674.5 375.9 675.3 379.6 675.9 383.3 C676.6 387 677.1 390.8 677.6 394.5 C678 398.2 678.4 402 678.6 405.7 C678.8 409.4 678.9 413.2 678.9 416.9 C678.9 420.6 678.7 424.3 678.5 428 C678.2 431.8 677.9 435.5 677.4 439.1 C676.9 442.8 676.3 446.5 675.6 450.1Z"/>
<path d="M663 444.1 C662.4 447.6 661.7 451.1 660.8 454.5 C660 458 659.1 461.4 658 464.9 C657 468.3 655.8 471.7 654.6 475 C653.3 478.4 651.9 481.7 650.5 485 C649 488.3 647.5 491.5 645.8 494.7 C644.1 497.9 642.4 501.1 640.5 504.2 C638.6 507.3 636.7 510.4 634.6 513.4 C632.6 516.4 630.4 519.4 628.2 522.3 C625.9 525.2 623.6 528.1 621.2 530.8 C618.7 533.6 616.2 536.4 613.6 539.1 C611 541.7 608.3 544.4 605.5 546.9 C602.8 549.5 599.9 551.9 597 554.4 C594.1 556.8 591.1 559.1 588 561.4 C584.9 563.7 581.7 565.9 578.5 568 C575.3 570.1 572 572.2 568.6 574.1 C565.3 576.1 561.8 578 558.3 579.8 C554.9 581.6 551.3 583.3 547.7 585 C544.1 586.6 540.4 588.2 536.7 589.7 C533 591.1 529.3 592.5 525.5 593.8 C521.6 595.1 517.8 596.4 513.9 597.5 C510 598.6 506.1 599.7 502.1 600.6 C498.1 601.6 494.1 602.4 490.1 603.2 C486.1 603.9 482 604.6 477.9 605.2 C473.8 605.8 469.7 606.3 465.6 606.7 C461.5 607.1 457.3 607.4 453.2 607.6 C449 607.8 444.8 607.9 440.7 607.9 C436.5 607.9 432.3 607.9 428.1 607.7 C423.9 607.5 419.8 607.3 415.6 606.9 C411.4 606.6 407.2 606.1 403 605.6 C398.9 605 394.7 604.4 390.6 603.7 C386.4 603 382.3 602.1 378.2 601.2 C374.1 600.3 370 599.3 366 598.2 C361.9 597.2 357.9 596 353.9 594.7 C349.9 593.4 346 592.1 342 590.7 C338.1 589.2 334.2 587.7 330.4 586.1 C326.6 584.5 322.8 582.8 319 581 C315.3 579.2 311.6 577.4 307.9 575.4 C304.3 573.5 300.7 571.5 297.2 569.4 C293.6 567.3 290.1 565.1 286.7 562.9 C283.3 560.7 280 558.4 276.7 556 C273.4 553.6 270.2 551.1 267.1 548.6 C263.9 546.1 260.9 543.5 257.9 540.9 C254.9 538.2 252 535.5 249.2 532.7 C246.3 529.9 243.6 527.1 240.9 524.2 C238.3 521.3 235.7 518.4 233.2 515.4 C230.7 512.4 228.3 509.4 226 506.3 C223.7 503.2 221.4 500 219.3 496.8 C217.2 493.7 215.1 490.4 213.2 487.2 C211.3 483.9 209.4 480.6 207.7 477.3 C206 473.9 204.3 470.5 202.8 467.1 C201.2 463.7 199.8 460.3 198.5 456.9 C197.1 453.4 195.9 449.9 194.8 446.4 C193.7 442.9 192.7 439.4 191.7 435.8 C190.8 432.3 190 428.8 189.3 425.2 C188.6 421.6 188.1 418.1 187.6 414.5 C187.1 410.9 186.7 407.3 186.5 403.7 C186.2 400.2 186.1 396.6 186 393 C186 389.4 186 385.8 186.2 382.3 C186.4 378.7 186.7 375.1 187.1 371.6 C187.5 368 188 364.5 188.6 361 C189.2 357.5 189.9 354 190.8 350.5 C191.6 347.1 192.5 343.6 193.6 340.2 C194.6 336.8 195.8 333.4 197 330 C198.3 326.7 199.7 323.4 201.1 320.1 C202.6 316.8 204.1 313.6 205.8 310.4 C207.5 307.2 209.2 304 211.1 300.9 C213 297.8 214.9 294.7 217 291.7 C219 288.7 221.2 285.7 223.4 282.8 C225.7 279.9 228 277 230.4 274.2 C232.9 271.4 235.4 268.7 238 266 C240.6 263.3 243.3 260.7 246.1 258.1 C248.8 255.6 251.7 253.1 254.6 250.7 C257.5 248.3 260.5 245.9 263.6 243.7 C266.7 241.4 269.9 239.2 273.1 237.1 C276.3 235 279.6 232.9 283 230.9 C286.3 229 289.8 227.1 293.3 225.3 C296.7 223.5 300.3 221.7 303.9 220.1 C307.5 218.4 311.2 216.9 314.9 215.4 C318.6 213.9 322.3 212.5 326.1 211.2 C330 209.9 333.8 208.7 337.7 207.6 C341.6 206.4 345.5 205.4 349.5 204.5 C353.5 203.5 357.5 202.6 361.5 201.9 C365.5 201.1 369.6 200.4 373.7 199.9 C377.8 199.3 381.9 198.8 386 198.4 C390.1 198 394.3 197.7 398.4 197.5 C402.6 197.3 406.8 197.2 410.9 197.1 C415.1 197.1 419.3 197.2 423.5 197.4 C427.7 197.5 431.8 197.8 436 198.1 C440.2 198.5 444.4 198.9 448.6 199.5 C452.7 200 456.9 200.7 461 201.4 C465.2 202.1 469.3 202.9 473.4 203.8 C477.5 204.7 481.6 205.7 485.6 206.8 C489.7 207.9 493.7 209.1 497.7 210.4 C501.7 211.6 505.6 213 509.6 214.4 C513.5 215.8 517.4 217.4 521.2 219 C525 220.6 528.8 222.3 532.6 224.1 C536.3 225.8 540 227.7 543.7 229.6 C547.3 231.6 550.9 233.6 554.4 235.7 C558 237.7 561.5 239.9 564.9 242.2 C568.3 244.4 571.6 246.7 574.9 249.1 C578.2 251.5 581.4 253.9 584.5 256.4 C587.7 259 590.7 261.6 593.7 264.2 C596.7 266.9 599.6 269.6 602.4 272.3 C605.3 275.1 608 277.9 610.7 280.8 C613.3 283.7 615.9 286.7 618.4 289.7 C620.9 292.7 623.3 295.7 625.6 298.8 C627.9 301.9 630.2 305 632.3 308.2 C634.4 311.4 636.5 314.6 638.4 317.9 C640.3 321.2 642.2 324.5 643.9 327.8 C645.6 331.1 647.3 334.5 648.8 337.9 C650.4 341.3 651.8 344.8 653.1 348.2 C654.5 351.7 655.7 355.1 656.8 358.6 C657.9 362.1 658.9 365.7 659.9 369.2 C660.8 372.7 661.6 376.3 662.3 379.9 C663 383.4 663.5 387 664 390.6 C664.5 394.2 664.9 397.7 665.1 401.3 C665.4 404.9 665.5 408.5 665.6 412.1 C665.6 415.7 665.6 419.2 665.4 422.8 C665.2 426.4 664.9 429.9 664.5 433.5 C664.1 437 663.6 440.5 663 444.1Z"/>
<path d="M635.4 432.3 C634.9 435.5 634.4 438.8 633.7 442 C633.1 445.1 632.4 448.3 631.5 451.5 C630.7 454.6 629.8 457.8 628.8 460.9 C627.7 464 626.6 467 625.4 470.1 C624.2 473.1 622.9 476.2 621.5 479.1 C620.1 482.1 618.6 485.1 617.1 488 C615.5 490.9 613.8 493.7 612.1 496.6 C610.3 499.4 608.5 502.2 606.6 504.9 C604.7 507.7 602.7 510.4 600.6 513 C598.5 515.6 596.3 518.2 594.1 520.8 C591.8 523.3 589.5 525.8 587.1 528.2 C584.7 530.6 582.2 533 579.7 535.3 C577.1 537.6 574.5 539.9 571.8 542 C569.1 544.2 566.4 546.3 563.6 548.4 C560.7 550.4 557.8 552.4 554.9 554.4 C552 556.3 548.9 558.1 545.9 559.9 C542.8 561.7 539.7 563.4 536.5 565 C533.3 566.6 530.1 568.2 526.8 569.7 C523.6 571.2 520.2 572.6 516.9 573.9 C513.5 575.2 510.1 576.5 506.7 577.6 C503.2 578.8 499.7 579.9 496.2 580.9 C492.7 581.9 489.1 582.8 485.6 583.7 C482 584.5 478.4 585.3 474.7 586 C471.1 586.6 467.4 587.2 463.7 587.7 C460.1 588.2 456.4 588.7 452.7 589 C448.9 589.4 445.2 589.6 441.5 589.8 C437.7 589.9 434 590 430.3 590 C426.5 590 422.7 589.9 419 589.8 C415.3 589.6 411.5 589.3 407.8 589 C404 588.7 400.3 588.2 396.6 587.7 C392.8 587.2 389.1 586.6 385.4 585.9 C381.7 585.3 378 584.5 374.4 583.6 C370.7 582.8 367.1 581.9 363.5 580.9 C359.9 579.8 356.3 578.8 352.7 577.6 C349.2 576.4 345.7 575.2 342.2 573.8 C338.7 572.5 335.2 571.1 331.8 569.6 C328.4 568.1 325.1 566.6 321.8 564.9 C318.4 563.3 315.2 561.6 311.9 559.8 C308.7 558 305.5 556.2 302.4 554.3 C299.3 552.4 296.2 550.4 293.2 548.3 C290.2 546.3 287.3 544.1 284.4 541.9 C281.5 539.8 278.7 537.5 276 535.2 C273.2 532.9 270.5 530.5 267.9 528.1 C265.3 525.7 262.7 523.2 260.3 520.7 C257.8 518.1 255.4 515.5 253.1 512.9 C250.8 510.2 248.5 507.5 246.3 504.8 C244.2 502.1 242.1 499.3 240.1 496.5 C238.1 493.6 236.2 490.8 234.3 487.9 C232.5 484.9 230.8 482 229.1 479 C227.5 476 225.9 473 224.4 470 C222.9 466.9 221.5 463.8 220.2 460.7 C218.9 457.6 217.7 454.5 216.6 451.3 C215.5 448.2 214.5 445 213.6 441.8 C212.7 438.6 211.8 435.4 211.1 432.2 C210.4 429 209.7 425.7 209.2 422.5 C208.7 419.2 208.2 416 207.9 412.7 C207.6 409.5 207.3 406.2 207.2 402.9 C207 399.7 207 396.4 207 393.1 C207.1 389.9 207.2 386.6 207.5 383.4 C207.7 380.1 208.1 376.9 208.5 373.7 C208.9 370.5 209.5 367.2 210.1 364.1 C210.8 360.9 211.5 357.7 212.3 354.5 C213.2 351.4 214.1 348.2 215.1 345.1 C216.1 342 217.2 339 218.4 335.9 C219.7 332.9 221 329.9 222.3 326.9 C223.7 323.9 225.2 320.9 226.8 318 C228.4 315.1 230 312.3 231.8 309.4 C233.5 306.6 235.4 303.8 237.3 301.1 C239.2 298.3 241.2 295.7 243.3 293 C245.4 290.4 247.5 287.8 249.8 285.3 C252 282.7 254.4 280.2 256.8 277.8 C259.2 275.4 261.6 273 264.2 270.7 C266.7 268.4 269.4 266.2 272 264 C274.7 261.8 277.5 259.7 280.3 257.6 C283.1 255.6 286 253.6 289 251.7 C291.9 249.7 294.9 247.9 298 246.1 C301 244.3 304.2 242.6 307.3 241 C310.5 239.4 313.7 237.8 317 236.3 C320.3 234.8 323.6 233.4 327 232.1 C330.3 230.8 333.8 229.5 337.2 228.4 C340.6 227.2 344.1 226.1 347.6 225.1 C351.2 224.1 354.7 223.2 358.3 222.3 C361.9 221.5 365.5 220.7 369.1 220 C372.8 219.4 376.4 218.8 380.1 218.3 C383.8 217.8 387.5 217.3 391.2 217 C394.9 216.7 398.6 216.4 402.4 216.2 C406.1 216.1 409.9 216 413.6 216 C417.4 216 421.1 216.1 424.9 216.2 C428.6 216.4 432.4 216.7 436.1 217 C439.8 217.3 443.6 217.8 447.3 218.3 C451 218.8 454.7 219.4 458.4 220.1 C462.1 220.8 465.8 221.5 469.5 222.4 C473.1 223.2 476.8 224.1 480.4 225.1 C484 226.2 487.6 227.2 491.1 228.4 C494.7 229.6 498.2 230.8 501.7 232.2 C505.2 233.5 508.6 234.9 512 236.4 C515.4 237.9 518.8 239.4 522.1 241.1 C525.4 242.7 528.7 244.4 531.9 246.2 C535.1 248 538.3 249.8 541.4 251.7 C544.6 253.7 547.6 255.6 550.6 257.7 C553.6 259.8 556.6 261.9 559.5 264.1 C562.3 266.2 565.2 268.5 567.9 270.8 C570.7 273.1 573.4 275.5 576 277.9 C578.6 280.3 581.1 282.8 583.6 285.4 C586.1 287.9 588.5 290.5 590.8 293.1 C593.1 295.8 595.4 298.5 597.5 301.2 C599.7 303.9 601.8 306.7 603.8 309.5 C605.8 312.4 607.7 315.2 609.5 318.2 C611.3 321.1 613.1 324 614.7 327 C616.4 330 618 333 619.5 336 C620.9 339.1 622.3 342.2 623.6 345.3 C624.9 348.4 626.1 351.5 627.2 354.7 C628.3 357.8 629.4 361 630.3 364.2 C631.2 367.4 632 370.6 632.8 373.8 C633.5 377 634.1 380.3 634.7 383.5 C635.2 386.8 635.6 390 636 393.3 C636.3 396.5 636.6 399.8 636.7 403.1 C636.8 406.3 636.9 409.6 636.8 412.9 C636.8 416.1 636.6 419.4 636.4 422.6 C636.1 425.9 635.8 429.1 635.4 432.3Z"/>
<path d="M628.8 429.9 C628.4 433 627.9 436.2 627.3 439.3 C626.7 442.4 626.1 445.5 625.3 448.6 C624.5 451.7 623.6 454.8 622.6 457.8 C621.7 460.9 620.6 463.9 619.5 466.9 C618.3 469.9 617.1 472.8 615.7 475.7 C614.4 478.7 613 481.6 611.5 484.4 C610 487.3 608.4 490.1 606.7 492.9 C605 495.7 603.3 498.4 601.4 501.1 C599.6 503.8 597.6 506.4 595.6 509 C593.6 511.6 591.5 514.2 589.4 516.7 C587.2 519.2 585 521.6 582.6 524 C580.3 526.4 577.9 528.8 575.5 531 C573 533.3 570.5 535.5 567.9 537.7 C565.3 539.9 562.6 542 559.9 544 C557.2 546 554.4 548 551.5 549.9 C548.7 551.8 545.8 553.6 542.8 555.4 C539.8 557.2 536.8 558.9 533.7 560.5 C530.7 562.1 527.5 563.7 524.4 565.1 C521.2 566.6 518 568 514.7 569.3 C511.4 570.7 508.1 571.9 504.8 573.1 C501.4 574.3 498.1 575.4 494.6 576.4 C491.2 577.4 487.8 578.3 484.3 579.2 C480.8 580 477.3 580.8 473.8 581.5 C470.2 582.2 466.7 582.8 463.1 583.4 C459.5 583.9 455.9 584.3 452.3 584.7 C448.7 585.1 445.1 585.4 441.5 585.6 C437.8 585.8 434.2 585.9 430.6 585.9 C426.9 585.9 423.3 585.9 419.6 585.7 C416 585.6 412.3 585.4 408.7 585.1 C405 584.8 401.4 584.4 397.8 583.9 C394.1 583.5 390.5 582.9 386.9 582.3 C383.3 581.7 379.7 581 376.2 580.2 C372.6 579.4 369.1 578.5 365.5 577.5 C362 576.6 358.5 575.5 355.1 574.4 C351.6 573.3 348.2 572.1 344.8 570.9 C341.4 569.6 338 568.2 334.7 566.8 C331.4 565.4 328.1 563.9 324.8 562.3 C321.6 560.8 318.4 559.1 315.2 557.4 C312.1 555.7 309 553.9 305.9 552.1 C302.9 550.2 299.9 548.3 297 546.3 C294 544.4 291.1 542.3 288.3 540.2 C285.5 538.1 282.7 535.9 280.1 533.7 C277.4 531.5 274.7 529.2 272.2 526.8 C269.6 524.5 267.1 522.1 264.7 519.6 C262.3 517.1 259.9 514.6 257.6 512.1 C255.4 509.5 253.1 506.9 251 504.2 C248.9 501.6 246.8 498.9 244.9 496.1 C242.9 493.4 241 490.6 239.2 487.8 C237.4 484.9 235.7 482.1 234.1 479.2 C232.4 476.3 230.9 473.3 229.4 470.4 C228 467.4 226.6 464.4 225.3 461.4 C224 458.4 222.8 455.3 221.7 452.2 C220.6 449.2 219.6 446.1 218.7 442.9 C217.8 439.8 216.9 436.7 216.2 433.6 C215.5 430.4 214.8 427.3 214.3 424.1 C213.7 420.9 213.3 417.7 212.9 414.6 C212.6 411.4 212.3 408.2 212.1 405 C212 401.8 211.9 398.6 211.9 395.4 C211.9 392.2 212.1 389 212.3 385.9 C212.5 382.7 212.8 379.5 213.2 376.4 C213.6 373.2 214.1 370.1 214.7 366.9 C215.3 363.8 216 360.7 216.8 357.6 C217.6 354.5 218.4 351.5 219.4 348.4 C220.4 345.4 221.4 342.3 222.6 339.4 C223.7 336.4 225 333.4 226.3 330.5 C227.6 327.6 229.1 324.7 230.6 321.8 C232.1 318.9 233.7 316.1 235.4 313.3 C237 310.6 238.8 307.8 240.6 305.1 C242.5 302.4 244.4 299.8 246.4 297.2 C248.4 294.6 250.5 292 252.7 289.5 C254.9 287 257.1 284.6 259.4 282.2 C261.7 279.8 264.1 277.5 266.6 275.2 C269 272.9 271.6 270.7 274.2 268.5 C276.8 266.4 279.4 264.3 282.2 262.2 C284.9 260.2 287.7 258.2 290.5 256.3 C293.4 254.4 296.3 252.6 299.3 250.8 C302.2 249.1 305.3 247.4 308.3 245.8 C311.4 244.1 314.5 242.6 317.7 241.1 C320.9 239.6 324.1 238.2 327.4 236.9 C330.6 235.6 333.9 234.3 337.3 233.1 C340.6 232 344 230.9 347.4 229.9 C350.8 228.8 354.3 227.9 357.8 227 C361.2 226.2 364.8 225.4 368.3 224.7 C371.8 224 375.4 223.4 378.9 222.9 C382.5 222.3 386.1 221.9 389.7 221.5 C393.3 221.2 397 220.9 400.6 220.7 C404.2 220.5 407.9 220.4 411.5 220.3 C415.1 220.3 418.8 220.3 422.5 220.5 C426.1 220.6 429.8 220.8 433.4 221.1 C437 221.4 440.7 221.8 444.3 222.3 C447.9 222.7 451.5 223.3 455.1 223.9 C458.7 224.6 462.3 225.3 465.9 226.1 C469.5 226.9 473 227.7 476.5 228.7 C480 229.6 483.5 230.7 487 231.8 C490.5 232.9 493.9 234.1 497.3 235.4 C500.7 236.6 504.1 238 507.4 239.4 C510.7 240.8 514 242.3 517.2 243.9 C520.5 245.4 523.7 247.1 526.8 248.8 C530 250.5 533.1 252.3 536.1 254.1 C539.2 256 542.2 257.9 545.1 259.9 C548 261.9 550.9 263.9 553.7 266 C556.6 268.1 559.3 270.3 562 272.5 C564.7 274.8 567.3 277.1 569.9 279.4 C572.5 281.8 575 284.2 577.4 286.6 C579.8 289.1 582.2 291.6 584.4 294.2 C586.7 296.7 588.9 299.3 591 302 C593.2 304.6 595.2 307.4 597.2 310.1 C599.1 312.8 601 315.6 602.8 318.5 C604.6 321.3 606.4 324.2 608 327.1 C609.6 330 611.2 332.9 612.6 335.9 C614.1 338.8 615.5 341.8 616.8 344.8 C618 347.9 619.2 350.9 620.3 354 C621.4 357.1 622.5 360.2 623.4 363.3 C624.3 366.4 625.1 369.5 625.9 372.7 C626.6 375.8 627.2 379 627.8 382.1 C628.3 385.3 628.8 388.5 629.1 391.7 C629.5 394.9 629.8 398.1 629.9 401.2 C630.1 404.4 630.2 407.6 630.1 410.8 C630.1 414 630 417.2 629.8 420.4 C629.6 423.5 629.3 426.7 628.8 429.9Z"/>
<path d="M229 435.7 C228.7 434.5 227.9 431 227.4 428.6 C227 426.2 226.6 423.9 226.2 421.5 C225.9 419.1 225.6 416.8 225.3 414.4 C225.1 412 224.9 409.6 224.8 407.2 C224.7 404.9 224.6 402.5 224.6 400.1 C224.6 397.7 224.6 395.3 224.7 393 C224.8 390.6 224.9 388.2 225.1 385.8 C225.3 383.5 225.6 381.1 225.9 378.8 C226.2 376.4 226.6 374.1 227 371.7 C227.4 369.4 227.9 367.1 228.4 364.8 C229 362.4 229.5 360.1 230.2 357.9 C230.8 355.6 231.5 353.3 232.3 351 C233 348.8 233.8 346.5 234.6 344.3 C235.5 342.1 236.4 339.9 237.3 337.7 C238.3 335.5 239.3 333.3 240.4 331.2 C241.4 329.1 242.5 326.9 243.7 324.8 C244.8 322.7 246 320.7 247.3 318.6 C248.5 316.6 249.8 314.5 251.2 312.5 C252.5 310.5 253.9 308.6 255.4 306.6 C256.8 304.7 258.3 302.8 259.8 300.9 C261.4 299 263 297.2 264.6 295.3 C266.2 293.5 267.9 291.7 269.6 290 C271.3 288.2 273 286.5 274.8 284.8 C276.6 283.1 278.4 281.5 280.3 279.9 C282.2 278.3 284.1 276.7 286 275.1 C288 273.6 290 272.1 292 270.6 C294 269.2 296.1 267.8 298.1 266.4 C300.2 265 302.3 263.7 304.5 262.4 C306.7 261.1 308.8 259.8 311.1 258.6 C313.3 257.4 315.5 256.2 317.8 255.1 C320.1 253.9 322.4 252.9 324.7 251.8 C327 250.8 329.4 249.8 331.7 248.9 C334.1 247.9 336.5 247 338.9 246.1 C341.4 245.3 343.8 244.5 346.3 243.7 C348.7 243 351.2 242.2 353.7 241.6 C356.2 240.9 358.7 240.3 361.3 239.7 C363.8 239.2 366.3 238.6 368.9 238.2 C371.5 237.7 374 237.3 376.6 236.9 C379.2 236.5 381.8 236.2 384.4 235.9 C387 235.6 389.6 235.4 392.2 235.2 C394.9 235.1 397.5 234.9 400.1 234.9 C402.7 234.8 405.4 234.8 408 234.8 C410.6 234.8 413.3 234.9 415.9 235 C418.5 235.1 421.2 235.3 423.8 235.5 C426.4 235.8 429.1 236 431.7 236.3 C434.3 236.7 436.9 237 439.5 237.5 C442.1 237.9 444.7 238.3 447.3 238.9 C449.9 239.4 452.5 240 455.1 240.6 C457.6 241.2 460.2 241.8 462.7 242.6 C465.3 243.3 467.8 244 470.3 244.8 C472.8 245.6 475.3 246.5 477.8 247.4 C480.3 248.3 482.7 249.2 485.2 250.2 C487.6 251.2 490 252.2 492.4 253.3 C494.8 254.4 497.2 255.5 499.5 256.7 C501.9 257.9 504.2 259.1 506.5 260.3 C508.8 261.6 511 262.9 513.3 264.2 C515.5 265.6 517.7 266.9 519.9 268.4 C522 269.8 524.2 271.2 526.3 272.7 C528.4 274.2 530.5 275.8 532.5 277.3 C534.6 278.9 536.6 280.5 538.5 282.2 C540.5 283.8 542.4 285.5 544.3 287.2 C546.2 288.9 548.1 290.7 549.9 292.5 C551.7 294.3 553.5 296.1 555.2 297.9 C557 299.8 558.7 301.7 560.3 303.6 C562 305.5 563.6 307.4 565.1 309.4 C566.7 311.4 568.2 313.4 569.7 315.4 C571.2 317.4 572.6 319.5 574 321.5 C575.4 323.6 576.7 325.7 578 327.8 C579.3 329.9 580.5 332.1 581.7 334.2 C582.9 336.4 584 338.6 585.1 340.8 C586.2 343 587.2 345.2 588.2 347.5 C589.2 349.7 590.1 352 591 354.2 C591.9 356.5 592.7 358.8 593.5 361.1 C594.3 363.4 595 365.7 595.7 368 C596.4 370.4 597 372.7 597.6 375 C598.1 377.4 598.6 379.7 599.1 382.1 C599.5 384.5 599.9 386.8 600.3 389.2 C600.6 391.6 600.9 393.9 601.2 396.3 C601.4 398.7 601.6 401.1 601.7 403.5 C601.9 405.8 601.9 408.2 601.9 410.6 C602 413 601.9 415.4 601.8 417.7 C601.7 420.1 601.6 422.5 601.4 424.8 C601.2 427.2 600.9 429.6 600.6 431.9 C600.3 434.3 599.9 436.6 599.5 439 C599.1 441.3 598.6 443.6 598.1 445.9 C597.6 448.2 597 450.5 596.3 452.8 C595.7 455.1 595 457.4 594.3 459.7 C593.5 461.9 592.7 464.2 591.9 466.4 C591 468.6 590.1 470.8 589.2 473 C588.2 475.2 587.2 477.3 586.2 479.5 C585.1 481.6 584 483.8 582.9 485.9 C581.7 488 580.5 490 579.2 492.1 C578 494.1 576.7 496.2 575.3 498.2 C574 500.2 572.6 502.1 571.1 504.1 C569.7 506 568.2 507.9 566.7 509.8 C565.1 511.7 563.6 513.5 561.9 515.4 C560.3 517.2 558.7 519 557 520.7 C555.2 522.5 553.5 524.2 551.7 525.9 C549.9 527.6 548.1 529.2 546.2 530.8 C544.3 532.4 542.4 534 540.5 535.6 C538.5 537.1 536.6 538.6 534.5 540.1 C532.5 541.5 530.5 542.9 528.4 544.3 C526.3 545.7 524.2 547 522 548.3 C519.9 549.6 517.7 550.9 515.5 552.1 C513.3 553.3 511 554.5 508.7 555.6 C506.5 556.7 504.2 557.8 501.8 558.9 C499.5 559.9 497.2 560.9 494.8 561.8 C492.4 562.8 490 563.7 487.6 564.5 C485.2 565.4 482.7 566.2 480.3 567 C477.8 567.7 475.3 568.4 472.8 569.1 C470.3 569.8 467.8 570.4 465.3 571 C462.7 571.5 460.2 572.1 457.6 572.5 C455.1 573 452.5 573.4 449.9 573.8 C447.3 574.2 444.7 574.5 442.1 574.8 C439.5 575 436.9 575.3 434.3 575.4 C431.7 575.6 429 575.7 426.4 575.8 C423.8 575.9 421.2 575.9 418.5 575.9 C415.9 575.9 411.9 575.7 410.6 575.7"/>
<path d="M231.6 436 C231.4 434.9 230.6 431.4 230.2 429.1 C229.7 426.8 229.3 424.5 229 422.1 C228.7 419.8 228.4 417.5 228.1 415.2 C227.9 412.8 227.7 410.5 227.6 408.2 C227.5 405.8 227.4 403.5 227.4 401.2 C227.4 398.8 227.4 396.5 227.5 394.2 C227.6 391.8 227.7 389.5 227.9 387.2 C228.1 384.9 228.4 382.6 228.7 380.3 C229 378 229.3 375.7 229.8 373.4 C230.2 371.1 230.6 368.8 231.1 366.6 C231.6 364.3 232.2 362 232.8 359.8 C233.4 357.6 234.1 355.3 234.8 353.1 C235.5 350.9 236.3 348.7 237.1 346.5 C237.9 344.4 238.8 342.2 239.7 340.1 C240.6 337.9 241.6 335.8 242.6 333.7 C243.6 331.6 244.7 329.5 245.8 327.5 C246.9 325.4 248.1 323.4 249.3 321.4 C250.5 319.4 251.8 317.4 253.1 315.4 C254.4 313.5 255.7 311.5 257.1 309.6 C258.5 307.7 259.9 305.9 261.4 304 C262.9 302.2 264.4 300.4 266 298.6 C267.5 296.8 269.1 295.1 270.8 293.4 C272.4 291.6 274.1 290 275.8 288.3 C277.6 286.7 279.3 285 281.1 283.5 C282.9 281.9 284.8 280.4 286.6 278.9 C288.5 277.3 290.4 275.9 292.4 274.5 C294.3 273 296.3 271.6 298.3 270.3 C300.3 268.9 302.4 267.6 304.4 266.4 C306.5 265.1 308.6 263.9 310.7 262.7 C312.9 261.5 315 260.4 317.2 259.3 C319.4 258.2 321.6 257.1 323.9 256.1 C326.1 255.1 328.4 254.1 330.7 253.2 C333 252.3 335.3 251.4 337.6 250.6 C339.9 249.7 342.3 248.9 344.7 248.2 C347 247.5 349.4 246.8 351.8 246.1 C354.2 245.5 356.7 244.9 359.1 244.3 C361.5 243.8 364 243.3 366.5 242.8 C368.9 242.3 371.4 241.9 373.9 241.6 C376.4 241.2 378.9 240.9 381.4 240.6 C383.9 240.4 386.4 240.2 388.9 240 C391.4 239.8 394 239.7 396.5 239.6 C399 239.6 401.6 239.5 404.1 239.6 C406.6 239.6 409.2 239.7 411.7 239.8 C414.3 239.9 416.8 240.1 419.3 240.3 C421.9 240.6 424.4 240.8 426.9 241.1 C429.4 241.5 432 241.8 434.5 242.3 C437 242.7 439.5 243.1 442 243.6 C444.5 244.2 447 244.7 449.4 245.3 C451.9 245.9 454.4 246.6 456.8 247.3 C459.3 248 461.7 248.7 464.1 249.5 C466.5 250.3 468.9 251.2 471.3 252.1 C473.7 252.9 476.1 253.9 478.4 254.9 C480.8 255.8 483.1 256.8 485.4 257.9 C487.7 259 490 260.1 492.2 261.2 C494.5 262.4 496.7 263.6 498.9 264.8 C501.1 266 503.3 267.3 505.5 268.6 C507.6 269.9 509.7 271.3 511.8 272.7 C513.9 274.1 516 275.5 518 277 C520 278.5 522 280 524 281.5 C526 283.1 527.9 284.7 529.8 286.3 C531.7 287.9 533.6 289.5 535.4 291.2 C537.2 292.9 539 294.6 540.7 296.4 C542.5 298.1 544.2 299.9 545.9 301.7 C547.5 303.6 549.2 305.4 550.8 307.3 C552.3 309.2 553.9 311.1 555.4 313 C556.9 314.9 558.4 316.9 559.8 318.9 C561.2 320.9 562.6 322.9 563.9 324.9 C565.2 326.9 566.5 329 567.8 331.1 C569 333.2 570.2 335.3 571.3 337.4 C572.5 339.5 573.6 341.7 574.6 343.8 C575.7 346 576.7 348.2 577.6 350.4 C578.6 352.6 579.5 354.8 580.3 357 C581.2 359.2 582 361.5 582.7 363.7 C583.5 366 584.2 368.3 584.8 370.5 C585.4 372.8 586 375.1 586.6 377.4 C587.1 379.7 587.6 382 588.1 384.3 C588.5 386.6 588.9 389 589.2 391.3 C589.6 393.6 589.8 395.9 590.1 398.3 C590.3 400.6 590.5 402.9 590.6 405.3 C590.7 407.6 590.8 409.9 590.8 412.3 C590.8 414.6 590.8 416.9 590.7 419.2 C590.6 421.6 590.5 423.9 590.3 426.2 C590.1 428.5 589.8 430.8 589.5 433.1 C589.2 435.5 588.9 437.8 588.5 440 C588.1 442.3 587.6 444.6 587.1 446.9 C586.6 449.1 586 451.4 585.4 453.6 C584.8 455.9 584.1 458.1 583.4 460.3 C582.7 462.5 581.9 464.7 581.1 466.9 C580.3 469.1 579.4 471.2 578.5 473.4 C577.6 475.5 576.6 477.6 575.6 479.7 C574.6 481.8 573.5 483.9 572.4 486 C571.3 488 570.1 490 568.9 492.1 C567.7 494.1 566.4 496 565.1 498 C563.8 499.9 562.5 501.9 561.1 503.8 C559.7 505.7 558.3 507.6 556.8 509.4 C555.3 511.2 553.8 513 552.2 514.8 C550.7 516.6 549.1 518.4 547.4 520.1 C545.8 521.8 544.1 523.5 542.4 525.1 C540.6 526.8 538.9 528.4 537.1 529.9 C535.3 531.5 533.4 533.1 531.6 534.6 C529.7 536.1 527.8 537.5 525.8 539 C523.9 540.4 521.9 541.8 519.9 543.1 C517.9 544.5 515.9 545.8 513.8 547.1 C511.7 548.3 509.6 549.6 507.5 550.7 C505.3 551.9 503.2 553.1 501 554.2 C498.8 555.3 496.6 556.3 494.3 557.3 C492.1 558.3 489.8 559.3 487.5 560.2 C485.3 561.2 482.9 562 480.6 562.9 C478.3 563.7 475.9 564.5 473.6 565.2 C471.2 566 468.8 566.7 466.4 567.3 C464 568 461.6 568.6 459.1 569.1 C456.7 569.7 454.2 570.2 451.8 570.6 C449.3 571.1 446.8 571.5 444.3 571.8 C441.8 572.2 439.3 572.5 436.8 572.8 C434.3 573.1 431.8 573.3 429.3 573.4 C426.8 573.6 424.2 573.7 421.7 573.8 C419.2 573.9 416.6 573.9 414.1 573.8 C411.6 573.8 407.8 573.7 406.5 573.6"/>
</g>
<path d="M222.6 424.7 C222.4 423.5 221.8 419.9 221.5 417.4 C221.2 415 220.9 412.5 220.7 410.1 C220.6 407.6 220.4 405.2 220.4 402.7 C220.3 400.3 220.3 397.8 220.3 395.4 C220.4 392.9 220.5 390.5 220.6 388 C220.8 385.6 221 383.1 221.3 380.7 C221.6 378.3 221.9 375.9 222.3 373.4 C222.7 371 223.1 368.6 223.6 366.2 C224.1 363.8 224.7 361.4 225.3 359.1 C226 356.7 226.6 354.3 227.4 352 C228.1 349.6 228.9 347.3 229.7 345 C230.6 342.7 231.5 340.4 232.4 338.1 C233.4 335.8 234.4 333.6 235.5 331.3 C236.5 329.1 237.7 326.9 238.8 324.7 C240 322.5 241.2 320.3 242.5 318.2 C243.8 316 245.1 313.9 246.5 311.8 C247.9 309.7 249.3 307.7 250.8 305.6 C252.3 303.6 253.8 301.6 255.4 299.6 C256.9 297.6 258.6 295.7 260.2 293.8 C261.9 291.8 263.6 290 265.4 288.1 C267.1 286.3 269 284.4 270.8 282.7 C272.7 280.9 274.5 279.1 276.5 277.4 C278.4 275.7 280.4 274 282.4 272.4 C284.4 270.8 286.5 269.2 288.6 267.6 C290.7 266.1 292.8 264.5 295 263.1 C297.2 261.6 299.4 260.1 301.6 258.8 C303.9 257.4 306.1 256 308.4 254.7 C310.8 253.4 313.1 252.1 315.5 250.9 C317.8 249.7 320.2 248.5 322.7 247.4 C325.1 246.3 327.6 245.2 330 244.1 C332.5 243.1 335 242.1 337.6 241.2 C340.1 240.2 342.7 239.3 345.3 238.5 C347.8 237.6 350.4 236.8 353.1 236.1 C355.7 235.3 358.3 234.6 361 234 C363.6 233.3 366.3 232.7 369 232.2 C371.7 231.6 374.4 231.1 377.1 230.7 C379.8 230.2 382.6 229.8 385.3 229.5 C388 229.1 390.8 228.8 393.6 228.6 C396.3 228.3 399.1 228.1 401.9 228 C404.6 227.8 407.4 227.7 410.2 227.7 C413 227.7 415.7 227.7 418.5 227.7 C421.3 227.8 424.1 227.9 426.9 228.1 C429.6 228.2 432.4 228.4 435.2 228.7 C438 229 440.7 229.3 443.5 229.6 C446.3 230 449 230.4 451.8 230.9 C454.5 231.4 457.2 231.9 460 232.4 C462.7 233 465.4 233.6 468.1 234.3 C470.8 235 473.5 235.7 476.1 236.4 C478.8 237.2 481.5 238 484.1 238.9 C486.7 239.7 489.3 240.7 491.9 241.6 C494.5 242.6 497.1 243.6 499.6 244.6 C502.2 245.7 504.7 246.8 507.2 247.9 C509.7 249.1 512.2 250.3 514.6 251.5 C517 252.7 519.5 254 521.9 255.3 C524.2 256.6 526.6 258 528.9 259.4 C531.2 260.8 533.5 262.3 535.8 263.8 C538.1 265.2 540.3 266.8 542.5 268.3 C544.7 269.9 546.8 271.5 548.9 273.2 C551 274.8 553.1 276.5 555.1 278.2 C557.2 279.9 559.2 281.7 561.1 283.5 C563.1 285.3 565 287.1 566.9 289 C568.8 290.8 570.6 292.7 572.4 294.7 C574.1 296.6 575.9 298.5 577.6 300.5 C579.3 302.5 580.9 304.5 582.5 306.6 C584.1 308.6 585.7 310.7 587.2 312.8 C588.7 314.9 590.1 317 591.5 319.2 C592.9 321.3 594.3 323.5 595.6 325.7 C596.9 327.9 598.1 330.1 599.3 332.4 C600.5 334.6 601.7 336.9 602.8 339.2 C603.8 341.5 604.9 343.8 605.9 346.1 C606.9 348.4 607.8 350.7 608.7 353.1 C609.5 355.4 610.3 357.8 611.1 360.2 C611.9 362.6 612.6 364.9 613.2 367.3 C613.9 369.7 614.5 372.2 615 374.6 C615.5 377 616 379.4 616.4 381.9 C616.8 384.3 617.2 386.7 617.5 389.2 C617.8 391.6 618.1 394.1 618.3 396.5 C618.4 399 618.6 401.4 618.6 403.9 C618.7 406.3 618.7 408.8 618.7 411.2 C618.6 413.7 618.5 416.1 618.4 418.6 C618.2 421 618 423.5 617.7 425.9 C617.4 428.3 617.1 430.7 616.7 433.2 C616.3 435.6 615.9 438 615.4 440.4 C614.9 442.8 614.3 445.2 613.7 447.5 C613 449.9 612.4 452.3 611.6 454.6 C610.9 457 610.1 459.3 609.3 461.6 C608.4 463.9 607.5 466.2 606.6 468.5 C605.6 470.8 604.6 473 603.5 475.3 C602.5 477.5 601.3 479.7 600.2 481.9 C599 484.1 597.8 486.3 596.5 488.4 C595.2 490.6 593.9 492.7 592.5 494.8 C591.1 496.9 589.7 498.9 588.2 501 C586.7 503 585.2 505 583.6 507 C582.1 509 580.4 510.9 578.8 512.8 C577.1 514.8 575.4 516.6 573.6 518.5 C571.9 520.3 570 522.2 568.2 523.9 C566.3 525.7 564.5 527.5 562.5 529.2 C560.6 530.9 558.6 532.6 556.6 534.2 C554.6 535.8 552.5 537.4 550.4 539 C548.3 540.5 546.2 542.1 544 543.5 C541.8 545 539.6 546.5 537.4 547.8 C535.1 549.2 532.9 550.6 530.6 551.9 C528.2 553.2 525.9 554.5 523.5 555.7 C521.2 556.9 518.8 558.1 516.3 559.2 C513.9 560.3 511.4 561.4 509 562.5 C506.5 563.5 504 564.5 501.4 565.4 C498.9 566.4 496.3 567.3 493.7 568.1 C491.2 569 488.6 569.8 485.9 570.5 C483.3 571.3 480.7 572 478 572.6 C475.4 573.3 472.7 573.9 470 574.4 C467.3 575 464.6 575.5 461.9 575.9 C459.2 576.4 456.4 576.8 453.7 577.1 C451 577.5 448.2 577.8 445.4 578 C442.7 578.3 439.9 578.5 437.1 578.6 C434.4 578.8 431.6 578.9 428.8 578.9 C426 578.9 423.3 578.9 420.5 578.9 C417.7 578.8 414.9 578.7 412.1 578.5 C409.4 578.4 406.6 578.2 403.8 577.9 C401 577.6 396.9 577.1 395.5 577" stroke-width="3.5"/>
<path d="M561 461 C560.2 463.7 559.3 466.3 558.3 468.9 C557.3 471.5 556.2 474 555.1 476.6 C553.9 479.1 552.7 481.6 551.5 484.1 C550.2 486.5 548.8 489 547.4 491.4 C546 493.8 544.5 496.1 543 498.4 C541.4 500.8 539.8 503 538.2 505.3 C536.5 507.5 534.8 509.7 533 511.8 C531.2 514 529.3 516.1 527.4 518.1 C525.5 520.2 523.5 522.2 521.5 524.1 C519.5 526.1 517.4 528 515.2 529.8 C513.1 531.6 510.9 533.4 508.7 535.2 C506.4 536.9 504.2 538.5 501.8 540.2 C499.5 541.8 497.1 543.3 494.7 544.8 C492.3 546.3 489.8 547.7 487.3 549.1 C484.8 550.4 482.3 551.7 479.7 553 C477.1 554.2 474.5 555.4 471.8 556.5 C469.2 557.6 466.5 558.6 463.8 559.6 C461.1 560.5 458.3 561.4 455.6 562.3 C452.8 563.1 450 563.8 447.2 564.5 C444.4 565.2 441.6 565.8 438.7 566.4 C435.9 566.9 433 567.4 430.1 567.8 C427.2 568.2 424.4 568.5 421.5 568.8 C418.5 569 415.6 569.2 412.7 569.3 C409.8 569.4 406.9 569.4 404 569.4 C401 569.4 398.1 569.2 395.2 569.1 C392.3 568.9 389.3 568.6 386.4 568.3 C383.5 568 380.6 567.6 377.7 567.1 C374.8 566.6 371.9 566.1 369 565.4 C366.2 564.8 363.3 564.1 360.5 563.4 C357.6 562.6 354.8 561.8 352 560.9 C349.2 560 346.4 559 343.7 558 C340.9 556.9 338.2 555.8 335.5 554.7 C332.8 553.5 330.1 552.3 327.5 551 C324.9 549.7 322.3 548.3 319.7 546.9 C317.1 545.4 314.6 543.9 312.1 542.4 C309.6 540.8 307.2 539.2 304.8 537.6 C302.4 535.9 300 534.2 297.7 532.4 C295.4 530.6 293.2 528.7 290.9 526.8 C288.7 525 286.6 523 284.5 521 C282.3 519 280.3 517 278.3 514.9 C276.3 512.8 274.3 510.6 272.5 508.4 C270.6 506.2 268.7 504 267 501.7 C265.2 499.4 263.5 497.1 261.9 494.7 C260.2 492.4 258.6 490 257.1 487.5 C255.6 485.1 254.2 482.6 252.8 480.1 C251.4 477.6 250.1 475.1 248.9 472.5 C247.6 470 246.4 467.4 245.3 464.7 C244.2 462.1 243.2 459.5 242.2 456.8 C241.3 454.1 240.4 451.5 239.6 448.8 C238.8 446 238 443.3 237.4 440.6 C236.7 437.8 236.1 435.1 235.6 432.3 C235.1 429.6 234.6 426.8 234.3 424 C233.9 421.2 233.6 418.5 233.4 415.7 C233.2 412.9 233.1 410.1 233 407.3 C232.9 404.5 233 401.7 233.1 398.9 C233.1 396.1 233.3 393.4 233.6 390.6 C233.8 387.8 234.1 385.1 234.5 382.3 C234.9 379.6 235.4 376.8 236 374.1 C236.5 371.4 237.1 368.7 237.8 366 C238.5 363.3 239.3 360.6 240.2 358 C241 355.3 241.9 352.7 242.9 350.1 C243.9 347.5 245 345 246.1 342.4 C247.3 339.9 248.5 337.4 249.7 334.9 C251 332.5 252.4 330 253.8 327.6 C255.2 325.2 256.7 322.9 258.2 320.6 C259.8 318.2 261.4 316 263 313.7 C264.7 311.5 266.4 309.3 268.2 307.2 C270 305 271.9 302.9 273.8 300.9 C275.7 298.8 277.7 296.8 279.7 294.9 C281.7 292.9 283.8 291 286 289.2 C288.1 287.4 290.3 285.6 292.5 283.8 C294.8 282.1 297 280.5 299.4 278.8 C301.7 277.2 304.1 275.7 306.5 274.2 C308.9 272.7 311.4 271.3 313.9 269.9 C316.4 268.6 318.9 267.3 321.5 266 C324.1 264.8 326.7 263.6 329.4 262.5 C332 261.4 334.7 260.4 337.4 259.4 C340.1 258.5 342.9 257.6 345.6 256.7 C348.4 255.9 351.2 255.2 354 254.5 C356.8 253.8 359.6 253.2 362.5 252.6 C365.3 252.1 368.2 251.6 371.1 251.2 C374 250.8 376.8 250.5 379.7 250.2 C382.7 250 385.6 249.8 388.5 249.7 C391.4 249.6 394.3 249.6 397.2 249.6 C400.2 249.6 403.1 249.8 406 249.9 C408.9 250.1 411.9 250.4 414.8 250.7 C417.7 251 420.6 251.4 423.5 251.9 C426.4 252.4 429.3 252.9 432.2 253.6 C435 254.2 437.9 254.9 440.7 255.6 C443.6 256.4 446.4 257.2 449.2 258.1 C452 259 454.8 260 457.5 261 C460.3 262.1 463 263.2 465.7 264.3 C468.4 265.5 471.1 266.7 473.7 268 C476.3 269.3 478.9 270.7 481.5 272.1 C484.1 273.6 486.6 275.1 489.1 276.6 C491.6 278.2 494 279.8 496.4 281.4 C498.8 283.1 501.2 284.8 503.5 286.6 C505.8 288.4 508 290.3 510.3 292.2 C512.5 294 514.6 296 516.7 298 C518.9 300 520.9 302 522.9 304.1 C524.9 306.2 526.9 308.4 528.7 310.6 C530.6 312.8 532.5 315 534.2 317.3 C536 319.6 537.7 321.9 539.3 324.3 C541 326.6 542.6 329 544.1 331.5 C545.6 333.9 547 336.4 548.4 338.9 C549.8 341.4 551.1 343.9 552.3 346.5 C553.6 349 554.8 351.6 555.9 354.3 C557 356.9 558 359.5 559 362.2 C559.9 364.9 560.8 367.5 561.6 370.2 C562.4 373 563.2 375.7 563.8 378.4 C564.5 381.2 565.1 383.9 565.6 386.7 C566.1 389.4 566.6 392.2 566.9 395 C567.3 397.8 567.6 400.5 567.8 403.3 C568 406.1 568.1 408.9 568.2 411.7 C568.3 414.5 568.2 417.3 568.1 420.1 C568.1 422.9 567.9 425.6 567.6 428.4 C567.4 431.2 567.1 433.9 566.7 436.7 C566.3 439.4 565.8 442.2 565.2 444.9 C564.7 447.6 564.1 450.3 563.4 453 C562.7 455.7 561.9 458.4 561 461Z" stroke-width="3"/>
<g id="lockring">
<g fill="#fff" stroke="none">
<path d="M380.6 248 L388.7 266.4 L406.8 266.4 L408.8 248 Z"/>
<path d="M268.3 292.3 L281.5 292.3 L281.5 297 Q284 301 285.3 302.6 L291 307.4 L291 313 L285.3 320.6 L277.7 324.3 L273 320.6 L263.6 320.6 L258.9 324.3 L252.3 324.3 L250.4 316 L252.3 313 Z"/>
<path d="M506.5 287.6 L518.6 286.5 L539.5 308.5 L538.4 310.7 L531.8 309.6 L527.4 311.8 L526.3 319.5 L521.9 324 L517.5 322.8 L504.3 307.4 L505.4 303 L508.7 298.6 L506.5 292 Z"/>
<path d="M566.4 414.3 L577.4 414.3 Q580.7 416 580.7 419.8 L579.6 433 L577.4 452.8 Q576 456 573 456 L565.3 457.2 L565.3 443 L548.8 440.7 L549.9 423 L565.3 421 Z"/>
<path d="M508.4 536.5 L511.7 542 L511.7 549.7 L506.2 555.2 L487.5 567.3 L476.5 568.4 L471 564 L468.8 558.5 L468.8 537.6 L482 530 L490.8 530 L495.2 535.4 L499.6 539.8 Z"/>
<path d="M406.6 578 L406.6 558.7 L434.3 558.7 L434.3 578 Z"/>
<path d="M333.5 538 L337.3 531.6 L353.7 539.2 L357.4 548 L353.7 560.6 L340 555 Z"/>
<path d="M273 495 L280.6 495 L293.2 512.7 L288 515.3 L275.6 507.7 Z"/>
<path d="M257 437 L261 438.9 L261.9 448.3 L253.4 453 L250.6 457.7 L251.5 469 L245 465 L240 440 Z"/>
</g>
<g stroke-width="2.6" fill="none">
<path d="M352 254.5 L360.5 252 L380.6 253 L388.7 266.4 L406.8 266.4 L408.8 250 L429 250 L441 254"/>
<path d="M268.3 292.3 L281.5 292.3 L281.5 297 Q284 301 285.3 302.6 L291 307.4 L291 313 L285.3 320.6 L277.7 324.3 L273 320.6 L263.6 320.6 L258.9 324.3 L252.3 324.3 L250.4 316 L252.3 313"/>
<path d="M490 280 L505.4 289.8 L506.5 287.6 L518.6 286.5 L539.5 308.5 L538.4 310.7 L531.8 309.6 L527.4 311.8 L526.3 319.5 L521.9 324 L517.5 322.8 L504.3 307.4 L505.4 303 L508.7 298.6 L506.5 292"/>
<path d="M534 309.6 L541.7 322.8 L547.2 324"/>
<path d="M566.4 400 L565.9 414.3 L577.4 414.3 Q580.7 416 580.7 419.8 L579.6 433 L577.4 452.8 Q576 456 573 456 L565.3 457.2 L564.2 458.4 L559.8 470"/>
<path d="M565.3 421 L549.9 423 L548.8 440.7 L565.3 443"/>
<path d="M526 520 L508.4 536.5 L511.7 542 L511.7 549.7 L506.2 555.2 L487.5 567.3 L476.5 568.4 L471 564 L468.8 558.5 L460 561.8"/>
<path d="M468.8 537.6 L482 530 L490.8 530 L495.2 535.4 L499.6 539.8 L508.4 536.5 M471 542 L493 536.5 M474.3 543 L475.4 555.2 L468.8 558.5"/>
<path d="M406.6 575 L406.6 558.7 L434.3 558.7 L434.3 575"/>
<path d="M333.5 538 L337.3 531.6 L353.7 539.2 L357.4 548 L353.7 560.6"/>
<path d="M273 495 L280.6 495 L293.2 512.7 L288 515.3"/>
<path d="M257 437 L261 438.9 L261.9 448.3 L253.4 453 L250.6 457.7 L251.5 469"/>
</g>
<path d="M549.9 423 L548.8 440.7 L556 441 L556 424 Z" fill="#111" stroke="none"/>
<path d="M276 316 L287 315 L285 322 L277 324 Z" fill="#111" stroke="none"/>
<!-- slots -->
<g stroke-width="2.2" fill="#bdbdbd">
<path d="M542 326 L549 324 L556 343 L549 346 Z"/>
<path d="M551 351 L558 349 L565 371 L558 374 Z"/>
<path d="M561 376 L568 374 L574 396 L567 399 Z"/>
<path d="M512 527 L541 500 L546 506 L517 533 Z"/>
</g>
<g stroke-width="6" stroke="#222">
<path d="M291 279 L314 267"/>
<path d="M342 253 L358 254"/>
<path d="M256 478 L265 497"/>
<path d="M444 569 L466 566 M365 566 L398 571"/>
</g>
<path d="M316 262 L338 256 L341 268 L318 273 Z" stroke-width="2" fill="#fff"/>
</g>

<g stroke-width="1.1">
<path d="M255.4 342.4 C255.9 341.5 257.3 338.7 258.3 336.9 C259.3 335.1 260.4 333.2 261.5 331.5 C262.6 329.7 263.7 327.9 264.9 326.2 C266.1 324.5 267.3 322.7 268.6 321 C269.8 319.4 271.1 317.7 272.4 316.1 C273.8 314.4 275.1 312.8 276.5 311.2 C278 309.7 279.4 308.1 280.9 306.6 C282.4 305.1 283.9 303.6 285.4 302.1 C287 300.6 288.5 299.2 290.1 297.8 C291.8 296.4 293.4 295 295.1 293.7 C296.8 292.4 298.5 291.1 300.2 289.8 C301.9 288.5 303.7 287.3 305.5 286.1 C307.3 284.9 309.1 283.8 310.9 282.6 C312.8 281.5 314.7 280.4 316.6 279.4 C318.4 278.3 320.4 277.3 322.3 276.3 C324.3 275.4 326.2 274.4 328.2 273.5 C330.2 272.6 332.2 271.8 334.2 271 C336.3 270.1 338.3 269.4 340.4 268.6 C342.4 267.9 344.5 267.2 346.6 266.5 C348.7 265.9 350.8 265.3 352.9 264.7 C355.1 264.1 357.2 263.6 359.4 263.1 C361.5 262.6 363.7 262.2 365.8 261.8 C368 261.4 370.2 261 372.4 260.7 C374.6 260.4 376.8 260.1 379 259.9 C381.2 259.7 383.4 259.5 385.6 259.3 C387.8 259.2 390.1 259.1 392.3 259 C394.5 259 396.7 259 399 259 C401.2 259 403.4 259.1 405.6 259.2 C407.9 259.3 410.1 259.5 412.3 259.7 C414.5 259.9 416.7 260.1 419 260.4 C421.2 260.7 423.4 261.1 425.6 261.4 C427.8 261.8 430 262.2 432.1 262.7 C434.3 263.1 436.5 263.6 438.6 264.2 C440.8 264.7 442.9 265.3 445.1 266 C447.2 266.6 449.3 267.3 451.4 268 C453.6 268.7 455.6 269.4 457.7 270.2 C459.8 271 461.9 271.8 463.9 272.7 C465.9 273.6 468 274.5 470 275.4 C472 276.4 473.9 277.4 475.9 278.4 C477.9 279.4 479.8 280.5 481.7 281.6 C483.6 282.7 485.5 283.8 487.4 285 C489.2 286.2 491.1 287.4 492.9 288.6 C494.7 289.9 496.5 291.2 498.2 292.5 C500 293.8 501.7 295.1 503.4 296.5 C505.1 297.9 506.8 299.3 508.4 300.8 C510 302.2 511.6 303.7 513.2 305.2 C514.8 306.7 516.3 308.2 517.8 309.8 C519.3 311.3 520.8 312.9 522.2 314.6 C523.6 316.2 525 317.8 526.4 319.5 C527.7 321.2 529.1 322.9 530.3 324.6 C531.6 326.3 532.9 328 534.1 329.8 C535.3 331.6 536.4 333.4 537.6 335.2 C538.7 337 539.8 338.8 540.8 340.7 C541.9 342.5 542.9 344.4 543.8 346.3 C544.8 348.2 545.7 350.1 546.6 352 C547.5 354 548.3 355.9 549.1 357.9 C549.9 359.8 550.6 361.8 551.3 363.8 C552 365.8 552.7 367.7 553.3 369.8 C553.9 371.8 554.5 373.8 555 375.8 C555.5 377.8 556 379.9 556.5 381.9 C556.9 384 557.3 386 557.6 388.1 C558 390.1 558.3 392.2 558.5 394.3 C558.8 396.3 559 398.4 559.1 400.5 C559.3 402.6 559.4 404.6 559.4 406.7 C559.5 408.8 559.5 410.9 559.5 412.9 C559.5 415 559.4 417.1 559.3 419.2 C559.1 421.2 559 423.3 558.7 425.3 C558.5 427.4 558.3 429.5 557.9 431.5 C557.6 433.6 557.3 435.6 556.9 437.6 C556.5 439.7 556 441.7 555.5 443.7 C555 445.7 554.5 447.7 553.9 449.7 C553.3 451.7 552.7 453.7 552 455.7 C551.4 457.6 550.7 459.6 549.9 461.5 C549.1 463.4 548.3 465.4 547.5 467.3 C546.6 469.2 545.7 471.1 544.8 472.9 C543.9 474.8 542.9 476.6 541.9 478.5 C540.9 480.3 539.8 482.1 538.7 483.9 C537.6 485.7 536.5 487.4 535.3 489.2 C534.1 490.9 532.9 492.6 531.6 494.3 C530.4 496 529.1 497.6 527.7 499.3 C526.4 500.9 525 502.5 523.6 504.1 C522.2 505.7 520.8 507.2 519.3 508.8 C517.8 510.3 516.3 511.8 514.8 513.2 C513.2 514.7 511.6 516.1 510 517.5 C508.4 518.9 506.8 520.3 505.1 521.6 C503.4 523 501.7 524.3 500 525.5 C498.3 526.8 496.5 528 494.7 529.2 C492.9 530.4 491.1 531.6 489.2 532.7 C487.4 533.8 485.5 534.9 483.6 536 C481.7 537 479.8 538 477.9 539 C475.9 540 474 540.9 472 541.8 C470 542.7 468 543.6 466 544.4 C463.9 545.2 461.9 546 459.8 546.7 C457.8 547.4 455.7 548.1 453.6 548.8 C451.5 549.4 449.4 550.1 447.2 550.6 C445.1 551.2 443 551.7 440.8 552.2 C438.7 552.7 436.5 553.1 434.3 553.6 C432.2 554 430 554.3 427.8 554.6 C425.6 554.9 423.4 555.2 421.2 555.5 C419 555.7 416.8 555.9 414.6 556 C412.3 556.2 410.1 556.3 407.9 556.3 C405.7 556.4 403.4 556.4 401.2 556.4 C399 556.3 396.8 556.3 394.5 556.1 C392.3 556 390.1 555.9 387.9 555.7 C385.7 555.4 383.4 555.2 381.2 554.9 C379 554.6 376.8 554.3 374.6 553.9 C372.4 553.5 370.2 553.1 368.1 552.7 C365.9 552.2 363.7 551.7 361.5 551.1 C359.4 550.6 357.2 550 355.1 549.4 C353 548.8 350.8 548.1 348.7 547.4 C346.6 546.7 344.5 545.9 342.5 545.1 C340.4 544.3 338.3 543.5 336.3 542.6 C334.2 541.8 332.2 540.8 330.2 539.9 C328.2 538.9 326.2 538 324.3 536.9 C322.3 535.9 320.4 534.8 318.5 533.7 C316.6 532.6 314.7 531.5 312.8 530.3 C311 529.1 309.1 527.9 307.3 526.7 C305.5 525.5 303.7 524.2 302 522.9 C300.2 521.5 298.5 520.2 296.8 518.8 C295.1 517.4 293.4 516 291.8 514.6 C290.2 513.1 288.6 511.7 287 510.2 C285.4 508.7 283.9 507.1 282.4 505.6 C280.9 504 279.4 502.4 278 500.8 C276.6 499.2 275.2 497.5 273.8 495.9 C272.4 494.2 271.1 492.5 269.8 490.8 C268.6 489 267.3 487.3 266.1 485.5 C264.9 483.8 263.7 482 262.6 480.2 C261.5 478.3 260.4 476.5 259.3 474.7 C258.3 472.8 257.3 470.9 256.3 469 C255.4 467.1 254.5 465.2 253.6 463.3 C252.7 461.4 251.9 459.4 251.1 457.5 C250.3 455.5 249.5 453.6 248.8 451.6 C248.1 449.6 247.5 447.6 246.9 445.6 C246.2 443.6 245.7 441.6 245.2 439.5 C244.6 437.5 244 434.4 243.7 433.4"/>
<path d="M264.3 341.9 C264.8 341 266.3 338.4 267.3 336.8 C268.4 335.1 269.5 333.4 270.6 331.7 C271.7 330.1 272.9 328.5 274.1 326.9 C275.3 325.2 276.5 323.7 277.8 322.1 C279.1 320.6 280.4 319 281.7 317.5 C283.1 316 284.5 314.5 285.9 313.1 C287.3 311.6 288.7 310.2 290.2 308.8 C291.7 307.4 293.2 306 294.7 304.7 C296.3 303.3 297.8 302 299.4 300.8 C301 299.5 302.7 298.2 304.3 297 C306 295.8 307.7 294.6 309.4 293.5 C311.1 292.3 312.8 291.2 314.6 290.1 C316.4 289 318.2 288 320 287 C321.8 285.9 323.6 285 325.5 284 C327.3 283.1 329.2 282.2 331.1 281.3 C333 280.4 334.9 279.6 336.9 278.8 C338.8 278 340.7 277.2 342.7 276.5 C344.7 275.8 346.7 275.1 348.7 274.4 C350.7 273.8 352.7 273.2 354.7 272.6 C356.8 272 358.8 271.5 360.9 271 C362.9 270.5 365 270.1 367.1 269.7 C369.1 269.2 371.2 268.9 373.3 268.5 C375.4 268.2 377.5 267.9 379.6 267.7 C381.7 267.4 383.9 267.2 386 267 C388.1 266.9 390.2 266.7 392.3 266.6 C394.5 266.6 396.6 266.5 398.7 266.5 C400.8 266.5 403 266.5 405.1 266.6 C407.2 266.7 409.3 266.8 411.5 267 C413.6 267.1 415.7 267.3 417.8 267.5 C419.9 267.8 422 268.1 424.1 268.4 C426.2 268.7 428.3 269.1 430.4 269.5 C432.5 269.9 434.5 270.3 436.6 270.8 C438.7 271.2 440.7 271.8 442.8 272.3 C444.8 272.9 446.8 273.5 448.8 274.1 C450.8 274.7 452.8 275.4 454.8 276.1 C456.8 276.8 458.8 277.6 460.7 278.4 C462.7 279.2 464.6 280 466.5 280.8 C468.4 281.7 470.3 282.6 472.2 283.5 C474 284.5 475.9 285.4 477.7 286.4 C479.5 287.4 481.4 288.5 483.1 289.6 C484.9 290.6 486.7 291.7 488.4 292.9 C490.1 294 491.8 295.2 493.5 296.4 C495.2 297.6 496.8 298.8 498.4 300.1 C500.1 301.4 501.6 302.7 503.2 304 C504.8 305.3 506.3 306.7 507.8 308.1 C509.3 309.5 510.7 310.9 512.2 312.3 C513.6 313.8 515 315.3 516.4 316.8 C517.7 318.3 519.1 319.8 520.4 321.3 C521.7 322.9 522.9 324.4 524.2 326 C525.4 327.6 526.6 329.3 527.7 330.9 C528.9 332.5 530 334.2 531.1 335.9 C532.1 337.6 533.2 339.3 534.2 341 C535.2 342.7 536.1 344.5 537 346.2 C538 348 538.8 349.8 539.7 351.6 C540.5 353.4 541.3 355.2 542 357 C542.8 358.8 543.5 360.7 544.2 362.5 C544.9 364.4 545.5 366.2 546.1 368.1 C546.7 370 547.2 371.9 547.7 373.8 C548.2 375.7 548.6 377.6 549.1 379.5 C549.5 381.4 549.8 383.3 550.2 385.3 C550.5 387.2 550.8 389.1 551 391.1 C551.2 393 551.4 394.9 551.6 396.9 C551.7 398.8 551.8 400.8 551.9 402.7 C551.9 404.7 552 406.6 551.9 408.6 C551.9 410.5 551.8 412.5 551.7 414.4 C551.6 416.4 551.4 418.3 551.2 420.3 C551 422.2 550.7 424.1 550.4 426.1 C550.1 428 549.8 429.9 549.4 431.8 C549 433.7 548.6 435.7 548.1 437.6 C547.7 439.5 547.1 441.3 546.6 443.2 C546 445.1 545.4 447 544.8 448.8 C544.1 450.7 543.4 452.5 542.7 454.4 C542 456.2 541.2 458 540.4 459.8 C539.6 461.6 538.7 463.4 537.9 465.2 C537 466.9 536 468.7 535.1 470.4 C534.1 472.1 533.1 473.8 532 475.5 C531 477.2 529.9 478.9 528.7 480.6 C527.6 482.2 526.4 483.8 525.2 485.4 C524 487 522.8 488.6 521.5 490.2 C520.3 491.7 518.9 493.3 517.6 494.8 C516.3 496.3 514.9 497.8 513.5 499.2 C512.1 500.7 510.6 502.1 509.1 503.5 C507.7 504.9 506.1 506.3 504.6 507.6 C503.1 508.9 501.5 510.3 499.9 511.5 C498.3 512.8 496.7 514.1 495 515.3 C493.3 516.5 491.7 517.7 489.9 518.8 C488.2 520 486.5 521.1 484.7 522.2 C483 523.3 481.2 524.3 479.4 525.3 C477.6 526.4 475.7 527.3 473.9 528.3 C472 529.2 470.1 530.1 468.2 531 C466.3 531.9 464.4 532.7 462.5 533.5 C460.5 534.3 458.6 535.1 456.6 535.8 C454.6 536.5 452.6 537.2 450.6 537.9 C448.6 538.5 446.6 539.1 444.6 539.7 C442.6 540.3 440.5 540.8 438.5 541.3 C436.4 541.8 434.3 542.2 432.3 542.6 C430.2 543 427 543.6 426 543.7"/>
<path d="M271.2 343 C271.7 342.1 273.2 339.7 274.3 338.1 C275.4 336.5 276.5 334.9 277.6 333.3 C278.7 331.8 279.9 330.2 281.1 328.7 C282.3 327.2 283.5 325.7 284.8 324.2 C286.1 322.8 287.4 321.3 288.7 319.9 C290 318.5 291.4 317.1 292.8 315.7 C294.2 314.3 295.6 313 297.1 311.7 C298.6 310.4 300.1 309.1 301.6 307.8 C303.1 306.5 304.6 305.3 306.2 304.1 C307.8 302.9 309.4 301.7 311 300.6 C312.7 299.4 314.3 298.3 316 297.2 C317.7 296.1 319.4 295.1 321.1 294.1 C322.8 293.1 324.6 292.1 326.3 291.1 C328.1 290.2 329.9 289.2 331.7 288.4 C333.5 287.5 335.3 286.6 337.2 285.8 C339 285 340.9 284.2 342.8 283.5 C344.7 282.7 346.6 282 348.5 281.3 C350.4 280.7 352.3 280 354.3 279.4 C356.2 278.8 358.2 278.2 360.1 277.7 C362.1 277.2 364.1 276.7 366.1 276.2 C368.1 275.8 370.1 275.4 372.1 275 C374.1 274.6 376.1 274.3 378.1 274 C380.1 273.7 382.2 273.4 384.2 273.2 C386.2 273 388.3 272.8 390.3 272.6 C392.3 272.5 394.4 272.4 396.4 272.3 C398.5 272.2 400.5 272.2 402.6 272.2 C404.6 272.2 406.6 272.3 408.7 272.3 C410.7 272.4 412.7 272.6 414.8 272.7 C416.8 272.9 418.8 273.1 420.9 273.3 C422.9 273.6 424.9 273.8 426.9 274.2 C428.9 274.5 430.9 274.8 432.9 275.2 C434.9 275.6 436.9 276 438.8 276.5 C440.8 277 442.7 277.5 444.7 278 C446.6 278.6 448.6 279.2 450.5 279.8 C452.4 280.4 454.3 281 456.2 281.7 C458 282.4 459.9 283.1 461.8 283.9 C463.6 284.7 465.4 285.5 467.2 286.3 C469 287.1 470.8 288 472.6 288.9 C474.4 289.8 476.1 290.7 477.8 291.7 C479.6 292.7 481.3 293.7 482.9 294.7 C484.6 295.7 486.3 296.8 487.9 297.9 C489.5 299 491.1 300.1 492.7 301.3 C494.3 302.4 495.8 303.6 497.3 304.8 C498.8 306 500.3 307.3 501.8 308.6 C503.2 309.8 504.7 311.1 506.1 312.5 C507.5 313.8 508.8 315.1 510.2 316.5 C511.5 317.9 512.8 319.3 514.1 320.7 C515.3 322.2 516.6 323.6 517.8 325.1 C519 326.6 520.1 328.1 521.2 329.6 C522.4 331.2 523.5 332.7 524.5 334.3 C525.6 335.8 526.6 337.4 527.6 339 C528.6 340.6 529.5 342.3 530.4 343.9 C531.3 345.6 532.2 347.2 533 348.9 C533.8 350.6 534.6 352.3 535.4 354 C536.1 355.7 536.8 357.4 537.5 359.2 C538.2 360.9 538.8 362.7 539.4 364.4 C540 366.2 540.5 368 541 369.8 C541.5 371.5 542 373.3 542.4 375.2 C542.9 377 543.2 378.8 543.6 380.6 C543.9 382.4 544.2 384.2 544.5 386.1 C544.7 387.9 544.9 389.8 545.1 391.6 C545.3 393.4 545.4 395.3 545.5 397.1 C545.6 399 545.6 400.8 545.6 402.7 C545.6 404.5 545.5 406.4 545.5 408.3 C545.4 410.1 545.2 412 545.1 413.8 C544.9 415.7 544.7 417.5 544.4 419.3 C544.2 421.2 543.9 423 543.5 424.9 C543.2 426.7 542.8 428.5 542.4 430.3 C541.9 432.1 541.5 434 541 435.8 C540.4 437.6 539.9 439.4 539.3 441.1 C538.7 442.9 538.1 444.7 537.4 446.5 C536.7 448.2 536 450 535.3 451.7 C534.5 453.4 533.7 455.2 532.9 456.9 C532 458.6 531.2 460.3 530.3 461.9 C529.4 463.6 528.4 465.3 527.4 466.9 C526.4 468.5 525.4 470.2 524.4 471.8 C523.3 473.4 522.2 474.9 521.1 476.5 C519.9 478.1 518.8 479.6 517.6 481.1 C516.4 482.6 515.1 484.1 513.9 485.6 C512.6 487.1 511.3 488.5 509.9 489.9 C508.6 491.4 507.2 492.8 505.8 494.1 C504.4 495.5 503 496.9 501.5 498.2 C500.1 499.5 498.6 500.8 497.1 502 C495.6 503.3 494 504.5 492.4 505.7 C490.9 507 489.3 508.1 487.6 509.3 C486 510.4 484.3 511.5 482.7 512.6 C481 513.7 479.3 514.8 477.6 515.8 C475.8 516.8 474.1 517.8 472.3 518.7 C470.5 519.7 468.8 520.6 466.9 521.5 C465.1 522.4 463.3 523.2 461.5 524 C459.6 524.9 457.7 525.6 455.9 526.4 C454 527.1 452.1 527.9 450.2 528.5 C448.2 529.2 446.3 529.8 444.4 530.4 C442.4 531 440.5 531.6 438.5 532.1 C436.5 532.7 434.6 533.2 432.6 533.6 C430.6 534.1 428.6 534.5 426.6 534.9 C424.6 535.2 422.5 535.6 420.5 535.9 C418.5 536.2 416.5 536.4 414.5 536.7 C412.4 536.9 410.4 537.1 408.3 537.2 C406.3 537.4 404.3 537.5 402.2 537.6 C400.2 537.6 398.1 537.7 396.1 537.6 C394.1 537.6 392 537.6 390 537.5 C387.9 537.4 385.9 537.3 383.9 537.1 C381.8 537 379.8 536.8 377.8 536.5 C375.8 536.3 373.8 536 371.8 535.7 C369.8 535.4 367.8 535 365.8 534.6 C363.8 534.2 361.8 533.8 359.8 533.3 C357.9 532.9 355.9 532.4 354 531.8 C352 531.3 350.1 530.7 348.2 530.1 C346.3 529.5 344.4 528.8 342.5 528.1 C340.6 527.4 338.7 526.7 336.9 525.9 C335.1 525.2 333.2 524.4 331.4 523.6 C329.6 522.7 327.8 521.9 326 521 C324.3 520.1 322.5 519.1 320.8 518.2 C319.1 517.2 317.4 516.2 315.7 515.2 C314 514.1 312.4 513.1 310.8 512 C309.1 510.9 307.5 509.8 306 508.6 C304.4 507.4 302.8 506.3 301.3 505 C299.8 503.8 298.3 502.6 296.9 501.3 C295.4 500 294 498.7 292.6 497.4 C291.2 496.1 289.8 494.7 288.5 493.3 C287.2 491.9 285.9 490.5 284.6 489.1 C283.3 487.7 282.1 486.2 280.9 484.7 C279.7 483.3 278.5 481.7 277.4 480.2 C276.3 478.7 275.2 477.1 274.1 475.6 C273.1 474 272.1 472.4 271.1 470.8 C270.1 469.2 269.1 467.6 268.2 465.9 C267.3 464.3 266.5 462.6 265.6 460.9 C264.8 459.3 264 457.6 263.3 455.9 C262.5 454.1 261.8 452.4 261.1 450.7 C260.5 448.9 259.8 447.2 259.3 445.4 C258.7 443.7 258.1 441.9 257.6 440.1 C257.1 438.3 256.5 435.6 256.2 434.7"/>
</g>
<path d="M534.4 372.4 C534.9 374.5 535.3 376.6 535.7 378.7 C536 380.9 536.3 383 536.5 385.2 C536.8 387.3 536.9 389.5 537 391.6 C537.2 393.8 537.2 396 537.2 398.1 C537.2 400.3 537.1 402.5 536.9 404.7 C536.8 406.8 536.6 409 536.3 411.2 C536 413.3 535.7 415.5 535.3 417.7 C534.9 419.8 534.4 422 533.9 424.1 C533.4 426.3 532.8 428.4 532.2 430.5 C531.5 432.7 530.8 434.8 530.1 436.9 C529.3 439 528.5 441 527.6 443.1 C526.7 445.2 525.8 447.2 524.8 449.2 C523.8 451.2 522.7 453.3 521.6 455.2 C520.5 457.2 519.3 459.2 518.1 461.1 C516.9 463 515.6 464.9 514.3 466.8 C512.9 468.7 511.5 470.5 510.1 472.3 C508.7 474.1 507.2 475.9 505.6 477.7 C504.1 479.4 502.5 481.1 500.9 482.8 C499.3 484.5 497.6 486.1 495.9 487.7 C494.2 489.3 492.4 490.9 490.6 492.4 C488.8 493.9 486.9 495.4 485 496.8 C483.2 498.3 481.2 499.7 479.3 501 C477.3 502.4 475.3 503.7 473.3 504.9 C471.2 506.2 469.2 507.4 467.1 508.6 C465 509.7 462.8 510.9 460.7 511.9 C458.5 513 456.3 514 454.1 515 C451.9 516 449.7 516.9 447.4 517.7 C445.1 518.6 442.9 519.4 440.5 520.2 C438.2 520.9 435.9 521.6 433.6 522.3 C431.3 522.9 428.9 523.5 426.5 524.1 C424.2 524.6 421.8 525.1 419.4 525.5 C417 526 414.6 526.3 412.2 526.7 C409.8 527 407.4 527.2 405 527.4 C402.6 527.6 400.2 527.8 397.8 527.9 C395.4 528 392.9 528 390.5 528 C388.1 528 385.7 527.9 383.3 527.8 C380.9 527.6 378.5 527.4 376.1 527.2 C373.8 526.9 371.4 526.6 369 526.3 C366.7 525.9 364.3 525.5 362 525 C359.7 524.5 357.4 524 355.1 523.4 C352.8 522.8 350.5 522.2 348.3 521.5 C346 520.8 343.8 520.1 341.6 519.3 C339.4 518.5 337.3 517.6 335.1 516.7 C333 515.8 330.9 514.8 328.8 513.8 C326.7 512.8 324.6 511.8 322.6 510.7 C320.6 509.6 318.6 508.4 316.7 507.2 C314.8 506 312.9 504.8 311 503.5 C309.1 502.2 307.3 500.8 305.5 499.4 C303.8 498.1 302 496.6 300.3 495.1 C298.6 493.7 297 492.2 295.4 490.6 C293.8 489.1 292.2 487.5 290.7 485.8 C289.2 484.2 287.8 482.5 286.4 480.8 C285 479.1 283.6 477.4 282.3 475.6 C281 473.8 279.8 472 278.6 470.2 C277.4 468.4 276.3 466.5 275.2 464.6 C274.1 462.7 273.1 460.8 272.1 458.8 C271.2 456.9 270.2 454.9 269.4 452.9 C268.6 450.9 267.8 448.9 267 446.9 C266.3 444.8 265.6 442.8 265 440.7 C264.4 438.6 263.9 436.5 263.4 434.4 C262.9 432.3 262.5 430.2 262.1 428.1 C261.8 425.9 261.5 423.8 261.3 421.6 C261 419.5 260.9 417.3 260.8 415.2 C260.6 413 260.6 410.8 260.6 408.7 C260.6 406.5 260.7 404.3 260.9 402.1 C261 400 261.2 397.8 261.5 395.6 C261.8 393.5 262.1 391.3 262.5 389.1 C262.9 387 263.4 384.8 263.9 382.7 C264.4 380.5 265 378.4 265.6 376.3 C266.3 374.1 267 372 267.7 369.9 C268.5 367.8 269.3 365.8 270.2 363.7 C271.1 361.6 272 359.6 273 357.6 C274 355.6 275.1 353.5 276.2 351.6 C277.3 349.6 278.5 347.6 279.7 345.7 C280.9 343.8 282.2 341.9 283.5 340 C284.9 338.1 286.3 336.3 287.7 334.5 C289.1 332.7 290.6 330.9 292.2 329.1 C293.7 327.4 295.3 325.7 296.9 324 C298.5 322.3 300.2 320.7 301.9 319.1 C303.6 317.5 305.4 315.9 307.2 314.4 C309 312.9 310.9 311.4 312.8 310 C314.6 308.5 316.6 307.1 318.5 305.8 C320.5 304.4 322.5 303.1 324.5 301.9 C326.6 300.6 328.6 299.4 330.7 298.2 C332.8 297.1 335 295.9 337.1 294.9 C339.3 293.8 341.5 292.8 343.7 291.8 C345.9 290.8 348.1 289.9 350.4 289.1 C352.7 288.2 354.9 287.4 357.3 286.6 C359.6 285.9 361.9 285.2 364.2 284.5 C366.5 283.9 368.9 283.3 371.3 282.7 C373.6 282.2 376 281.7 378.4 281.3 C380.8 280.8 383.2 280.5 385.6 280.1 C388 279.8 390.4 279.6 392.8 279.4 C395.2 279.2 397.6 279 400 278.9 C402.4 278.8 404.9 278.8 407.3 278.8 C409.7 278.8 412.1 278.9 414.5 279 C416.9 279.2 419.3 279.4 421.7 279.6 C424 279.9 426.4 280.2 428.8 280.5 C431.1 280.9 433.5 281.3 435.8 281.8 C438.1 282.3 440.4 282.8 442.7 283.4 C445 284 447.3 284.6 449.5 285.3 C451.8 286 454 286.7 456.2 287.5 C458.4 288.3 460.5 289.2 462.7 290.1 C464.8 291 466.9 292 469 293 C471.1 294 473.2 295 475.2 296.1 C477.2 297.2 479.2 298.4 481.1 299.6 C483 300.8 484.9 302 486.8 303.3 C488.7 304.6 490.5 306 492.3 307.4 C494 308.7 495.8 310.2 497.5 311.7 C499.2 313.1 500.8 314.6 502.4 316.2 C504 317.7 505.6 319.3 507.1 321 C508.6 322.6 510 324.3 511.4 326 C512.8 327.7 514.2 329.4 515.5 331.2 C516.8 333 518 334.8 519.2 336.6 C520.4 338.4 521.5 340.3 522.6 342.2 C523.7 344.1 524.7 346 525.7 348 C526.6 349.9 527.6 351.9 528.4 353.9 C529.2 355.9 530 357.9 530.8 359.9 C531.5 362 532.2 364 532.8 366.1 C533.4 368.2 533.9 370.3 534.4 372.4Z" stroke="none" fill="#fff"/>
<path d="M275.5 352.8 C276 352 277.3 349.6 278.3 348 C279.2 346.5 280.2 344.9 281.2 343.4 C282.2 341.9 283.3 340.4 284.4 338.9 C285.4 337.4 286.6 335.9 287.7 334.5 C288.8 333 290 331.6 291.2 330.2 C292.4 328.8 293.7 327.4 295 326 C296.2 324.7 297.5 323.3 298.9 322 C300.2 320.7 301.6 319.4 303 318.1 C304.4 316.9 305.8 315.6 307.2 314.4 C308.7 313.2 310.1 312 311.6 310.8 C313.1 309.7 314.7 308.5 316.2 307.4 C317.7 306.3 319.3 305.2 320.9 304.2 C322.5 303.1 324.1 302.1 325.8 301.1 C327.4 300.1 329.1 299.2 330.7 298.2 C332.4 297.3 334.1 296.4 335.8 295.5 C337.6 294.6 339.3 293.8 341.1 293 C342.8 292.2 344.6 291.4 346.4 290.7 C348.1 289.9 350 289.2 351.8 288.6 C353.6 287.9 355.4 287.2 357.3 286.6 C359.1 286 360.9 285.4 362.8 284.9 C364.7 284.4 366.5 283.9 368.4 283.4 C370.3 282.9 372.2 282.5 374.1 282.1 C376 281.7 377.9 281.3 379.8 281 C381.7 280.7 383.7 280.4 385.6 280.1 C387.5 279.9 389.4 279.7 391.4 279.5 C393.3 279.3 395.2 279.2 397.1 279 C399.1 278.9 401 278.9 402.9 278.8 C404.9 278.8 406.8 278.8 408.7 278.8 C410.6 278.9 412.6 278.9 414.5 279 C416.4 279.2 418.3 279.3 420.2 279.5 C422.1 279.7 424 279.9 425.9 280.1 C427.8 280.4 429.7 280.7 431.6 281 C433.5 281.3 435.3 281.7 437.2 282.1 C439 282.5 440.9 282.9 442.7 283.4 C444.5 283.8 446.4 284.3 448.2 284.9 C450 285.4 451.8 286 453.5 286.6 C455.3 287.2 457.1 287.8 458.8 288.5 C460.5 289.2 462.3 289.9 464 290.6 C465.7 291.4 467.4 292.2 469 293 C470.7 293.8 472.3 294.6 474 295.5 C475.6 296.3 477.2 297.2 478.7 298.2 C480.3 299.1 481.9 300.1 483.4 301.1 C484.9 302 486.4 303.1 487.9 304.1 C489.4 305.2 490.8 306.3 492.3 307.4 C493.7 308.5 495.1 309.6 496.5 310.8 C497.8 311.9 499.2 313.1 500.5 314.3 C501.8 315.6 503.1 316.8 504.3 318.1 C505.6 319.3 506.8 320.6 508 321.9 C509.2 323.3 510.3 324.6 511.4 326 C512.6 327.3 513.6 328.7 514.7 330.1 C515.8 331.5 516.8 333 517.8 334.4 C518.8 335.9 519.7 337.3 520.6 338.8 C521.5 340.3 522.4 341.8 523.3 343.3 C524.1 344.9 524.9 346.4 525.7 348 C526.5 349.5 527.2 351.1 527.9 352.7 C528.6 354.3 529.2 355.9 529.9 357.5 C530.5 359.1 531.1 360.7 531.6 362.4 C532.1 364 532.7 365.7 533.1 367.3 C533.6 369 534 370.7 534.4 372.4 C534.8 374.1 535.1 375.7 535.4 377.4 C535.7 379.1 536 380.9 536.2 382.6 C536.5 384.3 536.6 386 536.8 387.7 C536.9 389.5 537 391.2 537.1 392.9 C537.2 394.7 537.2 396.4 537.2 398.1 C537.2 399.9 537.1 401.6 537 403.4 C536.9 405.1 536.8 406.8 536.6 408.6 C536.4 410.3 536.2 412 535.9 413.8 C535.7 415.5 535.4 417.2 535.1 419 C534.7 420.7 534.3 422.4 533.9 424.1 C533.5 425.8 533 427.6 532.6 429.3 C532.1 431 531.5 432.7 530.9 434.3 C530.4 436 529.8 437.7 529.1 439.4 C528.5 441 527.8 442.7 527 444.3 C526.3 446 525.6 447.6 524.8 449.2 C524 450.8 523.1 452.4 522.3 454 C521.4 455.6 520.5 457.2 519.5 458.8 C518.6 460.3 517.6 461.9 516.6 463.4 C515.6 464.9 514.5 466.4 513.4 467.9 C512.4 469.4 511.2 470.9 510.1 472.3 C509 473.8 507.8 475.2 506.6 476.6 C505.4 478 504.1 479.4 502.8 480.8 C501.6 482.1 500.3 483.5 498.9 484.8 C497.6 486.1 496.2 487.4 494.8 488.7 C493.4 489.9 492 491.2 490.6 492.4 C489.1 493.6 487.7 494.8 486.2 496 C484.7 497.1 483.1 498.3 481.6 499.4 C480.1 500.5 478.5 501.6 476.9 502.6 C475.3 503.7 472.8 505.2 472 505.7" stroke-width="3"/>
<g stroke-width="1.1">
<path d="M472 505.7 C471.2 506.2 468.7 507.6 467.1 508.6 C465.4 509.5 463.7 510.4 462 511.3 C460.2 512.2 458.5 513 456.7 513.8 C455 514.6 453.2 515.4 451.4 516.1 C449.7 516.9 447.8 517.6 446 518.2 C444.2 518.9 442.4 519.6 440.5 520.2 C438.7 520.8 436.9 521.4 435 521.9 C433.1 522.4 431.3 522.9 429.4 523.4 C427.5 523.9 425.6 524.3 423.7 524.7 C421.8 525.1 419.9 525.5 418 525.8 C416.1 526.1 414.1 526.4 412.2 526.7 C410.3 526.9 408.4 527.1 406.4 527.3 C404.5 527.5 402.6 527.6 400.7 527.8 C398.7 527.9 396.8 527.9 394.9 528 C392.9 528 391 528 389.1 528 C387.2 527.9 385.2 527.9 383.3 527.8 C381.4 527.6 379.5 527.5 377.6 527.3 C375.7 527.1 373.8 526.9 371.9 526.7 C370 526.4 368.1 526.1 366.2 525.8 C364.3 525.5 362.5 525.1 360.6 524.7 C358.8 524.3 356.9 523.9 355.1 523.4 C353.3 523 351.4 522.5 349.6 521.9 C347.8 521.4 346 520.8 344.3 520.2 C342.5 519.6 340.7 519 339 518.3 C337.3 517.6 335.5 516.9 333.8 516.2 C332.1 515.4 330.4 514.6 328.8 513.8 C327.1 513 325.5 512.2 323.8 511.3 C322.2 510.5 320.6 509.6 319.1 508.6 C317.5 507.7 315.9 506.7 314.4 505.7 C312.9 504.8 311.4 503.7 309.9 502.7 C308.4 501.6 307 500.5 305.5 499.4 C304.1 498.3 302.7 497.2 301.3 496 C300 494.9 298.6 493.7 297.3 492.5 C296 491.2 294.7 490 293.5 488.7 C292.2 487.5 291 486.2 289.8 484.9 C288.6 483.5 287.5 482.2 286.4 480.8 C285.2 479.5 284.2 478.1 283.1 476.7 C282 475.3 281 473.8 280 472.4 C279 470.9 278.1 469.5 277.2 468 C276.3 466.5 275.4 465 274.5 463.5 C273.7 461.9 272.9 460.4 272.1 458.8 C271.3 457.3 270.6 455.7 269.9 454.1 C269.2 452.5 268.6 450.9 267.9 449.3 C267.3 447.7 266.7 446.1 266.2 444.4 C265.7 442.8 265.1 441.1 264.7 439.5 C264.2 437.8 263.8 436.1 263.4 434.4 C263 432.7 262.7 431.1 262.4 429.4 C262.1 427.7 261.8 425.9 261.6 424.2 C261.3 422.5 261.2 420.8 261 419.1 C260.9 417.3 260.8 415.6 260.7 413.9 C260.6 412.1 260.6 410.4 260.6 408.7 C260.6 406.9 260.7 405.2 260.8 403.4 C260.9 401.7 261 400 261.2 398.2 C261.4 396.5 261.6 394.8 261.9 393 C262.1 391.3 262.4 389.6 262.7 387.8 C263.1 386.1 263.5 384.4 263.9 382.7 C264.3 381 264.8 379.2 265.2 377.5 C265.7 375.8 266.3 374.1 266.9 372.5 C267.4 370.8 268 369.1 268.7 367.4 C269.3 365.8 270 364.1 270.8 362.5 C271.5 360.8 272.2 359.2 273 357.6 C273.8 356 275.1 353.6 275.5 352.8"/>
<path d="M470.4 503.4 C469.6 503.9 467.2 505.4 465.6 506.3 C463.9 507.2 462.2 508.1 460.6 508.9 C458.9 509.8 457.2 510.6 455.5 511.4 C453.8 512.2 452 512.9 450.3 513.6 C448.5 514.4 446.8 515.1 445 515.7 C443.2 516.4 441.4 517 439.6 517.6 C437.8 518.2 436 518.8 434.2 519.3 C432.4 519.8 430.5 520.3 428.7 520.8 C426.9 521.2 425 521.6 423.1 522 C421.3 522.4 419.4 522.8 417.6 523.1 C415.7 523.4 413.8 523.7 411.9 523.9 C410.1 524.2 408.2 524.4 406.3 524.6 C404.4 524.8 402.5 524.9 400.6 525 C398.7 525.1 396.8 525.2 395 525.2 C393.1 525.3 391.2 525.3 389.3 525.2 C387.4 525.2 385.5 525.1 383.7 525 C381.8 524.9 379.9 524.8 378 524.6 C376.2 524.4 374.3 524.2 372.5 524 C370.6 523.7 368.8 523.4 366.9 523.1 C365.1 522.8 363.3 522.4 361.5 522.1 C359.6 521.7 357.8 521.2 356.1 520.8 C354.3 520.3 352.5 519.8 350.7 519.3 C349 518.8 347.2 518.2 345.5 517.6 C343.7 517 342 516.4 340.3 515.8 C338.6 515.1 336.9 514.4 335.3 513.7 C333.6 513 331.9 512.2 330.3 511.4 C328.7 510.6 327.1 509.8 325.5 509 C323.9 508.1 322.3 507.2 320.8 506.3 C319.3 505.4 317.7 504.5 316.3 503.5 C314.8 502.5 313.3 501.5 311.8 500.5 C310.4 499.5 309 498.4 307.6 497.3 C306.2 496.2 304.8 495.1 303.5 494 C302.1 492.9 300.8 491.7 299.6 490.5 C298.3 489.3 297 488.1 295.8 486.9 C294.6 485.6 293.4 484.3 292.2 483.1 C291.1 481.8 289.9 480.5 288.8 479.1 C287.7 477.8 286.7 476.4 285.6 475.1 C284.6 473.7 283.6 472.3 282.6 470.9 C281.7 469.5 280.8 468 279.9 466.6 C279 465.1 278.1 463.6 277.3 462.1 C276.4 460.7 275.7 459.1 274.9 457.6 C274.2 456.1 273.4 454.6 272.8 453 C272.1 451.5 271.4 449.9 270.8 448.3 C270.2 446.7 269.6 445.1 269.1 443.5 C268.6 441.9 268.1 440.3 267.6 438.7 C267.2 437 266.8 435.4 266.4 433.7 C266 432.1 265.7 430.4 265.4 428.8 C265.1 427.1 264.8 425.4 264.6 423.8 C264.4 422.1 264.2 420.4 264 418.7 C263.9 417 263.8 415.3 263.7 413.6 C263.7 411.9 263.6 410.2 263.7 408.5 C263.7 406.8 263.7 405.1 263.8 403.4 C263.9 401.7 264.1 400 264.2 398.3 C264.4 396.6 264.6 394.9 264.9 393.2 C265.1 391.6 265.4 389.9 265.7 388.2 C266.1 386.5 266.4 384.8 266.9 383.1 C267.3 381.4 267.7 379.8 268.2 378.1 C268.7 376.4 269.2 374.8 269.8 373.1 C270.3 371.5 270.9 369.9 271.6 368.2 C272.2 366.6 272.9 365 273.6 363.4 C274.3 361.8 275 360.2 275.8 358.6 C276.6 357 277.9 354.7 278.3 353.9"/>
<path d="M473.5 498.3 C472.7 498.7 470.4 500.2 468.8 501.2 C467.2 502.1 465.7 503.1 464.1 504 C462.5 504.8 460.8 505.7 459.2 506.5 C457.5 507.4 455.9 508.2 454.2 508.9 C452.5 509.7 450.8 510.5 449.1 511.2 C447.4 511.9 445.7 512.5 444 513.2 C442.2 513.8 440.5 514.5 438.7 515 C437 515.6 435.2 516.2 433.4 516.7 C431.6 517.2 429.8 517.7 428 518.1 C426.2 518.6 424.4 519 422.6 519.4 C420.8 519.7 419 520.1 417.1 520.4 C415.3 520.7 413.5 521 411.6 521.2 C409.8 521.5 408 521.7 406.1 521.9 C404.3 522 402.4 522.2 400.6 522.3 C398.7 522.4 396.9 522.5 395 522.5 C393.2 522.5 391.4 522.5 389.5 522.5 C387.7 522.5 385.8 522.4 384 522.3 C382.2 522.2 380.3 522 378.5 521.9 C376.7 521.7 374.9 521.5 373.1 521.2 C371.3 521 369.4 520.7 367.7 520.4 C365.9 520.1 364.1 519.8 362.3 519.4 C360.5 519 358.8 518.6 357 518.1 C355.3 517.7 353.5 517.2 351.8 516.7 C350.1 516.2 348.4 515.6 346.7 515.1 C345 514.5 343.3 513.9 341.6 513.2 C340 512.6 338.3 511.9 336.7 511.2 C335.1 510.5 333.5 509.8 331.9 509 C330.3 508.2 328.7 507.4 327.2 506.6 C325.6 505.8 324.1 504.9 322.6 504 C321.1 503.1 319.6 502.2 318.1 501.2 C316.7 500.3 315.2 499.3 313.8 498.3 C312.4 497.3 311 496.3 309.6 495.2 C308.3 494.2 306.9 493.1 305.6 492 C304.3 490.8 303 489.7 301.8 488.5 C300.5 487.4 299.3 486.2 298.1 485 C296.9 483.8 295.8 482.5 294.6 481.3 C293.5 480 292.4 478.7 291.3 477.4 C290.2 476.1 289.2 474.8 288.2 473.5 C287.2 472.1 286.2 470.7 285.3 469.4 C284.3 468 283.4 466.6 282.5 465.1 C281.7 463.7 280.8 462.3 280 460.8 C279.2 459.4 278.4 457.9 277.7 456.4 C277 454.9 276.3 453.4 275.6 451.9 C274.9 450.4 274.3 448.8 273.7 447.3 C273.1 445.7 272.6 444.2 272 442.6 C271.5 441 271 439.5 270.6 437.9 C270.1 436.3 269.7 434.7 269.4 433.1 C269 431.5 268.7 429.8 268.4 428.2 C268.1 426.6 267.8 424.9 267.6 423.3 C267.4 421.7 267.2 420 267.1 418.4 C266.9 416.7 266.8 415.1 266.8 413.4 C266.7 411.8 266.7 410.1 266.7 408.4 C266.7 406.8 266.8 405.1 266.9 403.4 C267 401.8 267.1 400.1 267.3 398.5 C267.4 396.8 267.6 395.1 267.9 393.5 C268.1 391.8 268.4 390.2 268.7 388.5 C269.1 386.9 269.4 385.2 269.8 383.6 C270.2 381.9 270.7 380.3 271.1 378.7 C271.6 377.1 272.1 375.4 272.7 373.8 C273.2 372.2 273.8 370.6 274.4 369 C275 367.4 275.7 365.8 276.4 364.3 C277.1 362.7 277.8 361.1 278.6 359.6 C279.3 358 280.1 356.5 281 355 C281.8 353.5 283.1 351.2 283.6 350.5"/>
<path d="M283 368 C283.4 367.2 284.4 365 285.1 363.5 C285.8 362.1 286.6 360.6 287.4 359.2 C288.2 357.7 289 356.3 289.8 354.9 C290.7 353.5 291.6 352.1 292.5 350.7 C293.4 349.3 294.4 348 295.3 346.6 C296.3 345.3 297.3 343.9 298.4 342.6 C299.4 341.3 300.5 340 301.6 338.8 C302.7 337.5 303.8 336.2 304.9 335 C306.1 333.8 307.3 332.5 308.5 331.3 C309.7 330.2 310.9 329 312.2 327.8 C313.4 326.7 314.7 325.6 316 324.5 C317.3 323.4 318.7 322.3 320 321.2 C321.4 320.2 322.8 319.1 324.2 318.1 C325.6 317.1 327 316.2 328.4 315.2 C329.9 314.3 331.3 313.3 332.8 312.4 C334.3 311.5 335.8 310.7 337.3 309.8 C338.8 309 340.4 308.2 341.9 307.4 C343.5 306.6 345.1 305.8 346.6 305.1 C348.2 304.4 349.8 303.7 351.5 303 C353.1 302.3 354.7 301.7 356.3 301.1 C358 300.5 359.6 299.9 361.3 299.3 C363 298.8 364.7 298.3 366.3 297.8 C368 297.3 369.7 296.8 371.4 296.4 C373.1 296 374.8 295.6 376.6 295.2 C378.3 294.9 380 294.5 381.7 294.2 C383.5 293.9 385.2 293.7 386.9 293.5 C388.7 293.2 390.4 293 392.2 292.9 C393.9 292.7 395.7 292.6 397.4 292.5 C399.2 292.4 400.9 292.3 402.6 292.3 C404.4 292.2 406.1 292.2 407.9 292.3 C409.6 292.3 411.4 292.4 413.1 292.5 C414.8 292.6 416.6 292.7 418.3 292.8 C420 293 421.7 293.2 423.5 293.4 C425.2 293.7 426.9 293.9 428.6 294.2 C430.3 294.5 432 294.8 433.6 295.2 C435.3 295.6 437 296 438.6 296.4 C440.3 296.8 442 297.3 443.6 297.7 C445.2 298.2 446.8 298.7 448.4 299.3 C450 299.8 451.6 300.4 453.2 301 C454.8 301.6 456.3 302.3 457.9 303 C459.4 303.6 461 304.3 462.5 305 C464 305.8 466.2 306.9 466.9 307.3"/>
<path d="M293.9 371.4 C294.2 370.8 295.1 368.7 295.8 367.4 C296.4 366.1 297.1 364.8 297.9 363.5 C298.6 362.2 299.3 360.9 300.1 359.6 C300.9 358.3 301.7 357.1 302.5 355.8 C303.3 354.6 304.2 353.3 305.1 352.1 C306 350.9 306.9 349.7 307.8 348.5 C308.8 347.3 309.7 346.1 310.7 345 C311.7 343.8 312.7 342.7 313.8 341.6 C314.8 340.4 315.9 339.3 317 338.3 C318.1 337.2 319.2 336.1 320.3 335.1 C321.5 334 322.6 333 323.8 332 C325 331 326.2 330.1 327.4 329.1 C328.7 328.1 329.9 327.2 331.2 326.3 C332.5 325.4 333.7 324.5 335.1 323.6 C336.4 322.8 337.7 321.9 339 321.1 C340.4 320.3 341.7 319.5 343.1 318.8 C344.5 318 345.9 317.2 347.3 316.5 C348.7 315.8 350.1 315.1 351.6 314.5 C353 313.8 354.5 313.2 355.9 312.6 C357.4 312 358.9 311.4 360.3 310.8 C361.8 310.3 363.3 309.7 364.8 309.2 C366.4 308.8 367.9 308.3 369.4 307.8 C370.9 307.4 372.5 307 374 306.6 C375.6 306.2 377.1 305.9 378.7 305.5 C380.2 305.2 381.8 304.9 383.4 304.6 C384.9 304.4 386.5 304.1 388.1 303.9 C389.6 303.7 391.2 303.5 392.8 303.4 C394.4 303.2 396 303.1 397.6 303 C399.1 302.9 400.7 302.9 402.3 302.8 C403.9 302.8 405.5 302.8 407 302.8 C408.6 302.9 410.2 302.9 411.8 303 C413.4 303.1 414.9 303.2 416.5 303.4 C418 303.5 419.6 303.7 421.2 303.9 C422.7 304.1 424.3 304.4 425.8 304.6 C427.3 304.9 428.9 305.2 430.4 305.5 C431.9 305.8 433.4 306.2 434.9 306.6 C436.4 307 437.9 307.4 439.4 307.8 C440.9 308.3 442.3 308.7 443.8 309.2 C445.3 309.7 446.7 310.2 448.1 310.8 C449.5 311.3 451 311.9 452.4 312.5 C453.8 313.1 455.1 313.8 456.5 314.4 C457.9 315.1 459.2 315.8 460.5 316.5 C461.9 317.2 463.2 317.9 464.5 318.7 C465.8 319.5 467.7 320.7 468.3 321.1"/>
</g>
<g id="interior">
<!-- outlet surrounding thin rings -->
<g stroke-width="1.1">
<ellipse cx="442" cy="398" rx="44" ry="52" transform="rotate(20 442 398)"/>
<ellipse cx="442" cy="398" rx="38" ry="47" transform="rotate(20 442 398)"/>
<ellipse cx="440" cy="400" rx="50" ry="58" transform="rotate(20 440 400)"/>
</g>
<!-- D plate -->
<path d="M498.8 370 L525.6 375.4 L533.6 384.7 L535 430 Q533 450 525.6 462.2 Q518 478 506.9 489 Q494 500 480 505 L458.8 510.3 L446.8 491.6 L437.4 486.3 L424 494.3 L480 395.4 L488.2 384.7 Z" stroke-width="1.2" fill="#fff"/>
<path d="M498.8 370 L525.6 375.4 L533.6 384.7 L535 430 Q533 450 525.6 462.2 Q518 478 506.9 489 Q494 500 480 505 L458.8 510.3" stroke-width="3"/>
<path d="M498.8 370 L488.2 384.7" stroke-width="3"/>
<path d="M484 391 L430 483 M489 393 L436 484" stroke-width="1.1"/>
<path d="M422.6 494.4 L432.6 480.5 L444.8 492.4 L456.8 500.5 L473 508.5 L466 515.5 L444.8 516.6 Z M432.6 497 L444.8 492.4 M444.8 516.6 L456.8 500.5" stroke-width="1.1" fill="#fff"/>
<!-- outlet -->
<path d="M416 371.4 Q420 360 429.4 358 Q442 353 453.4 355.3 Q463 358 466.8 366 Q470 378 466.8 390 Q462 405 453.4 416.8 Q444 426 432 427.5 Q422 427 418.7 422.1 Q413 413 414.7 403.4 Q413 385 416 371.4 Z" stroke-width="3" fill="#5a5a5a"/>
<path d="M423 380 Q430 366 447 364 Q460 368 459 390 Q455 410 442 420 Q428 424 421 412 Q418 396 423 380 Z" stroke-width="1" fill="#d0d0d0"/>
<path d="M426 378 L424 414 M431 372 L429 419 M436 368 L434 420 M442 366 L440 420 M448 366 L446 416 M454 370 L452 408" stroke="#666" stroke-width="1.3"/>
<path d="M453.4 350 Q470 356 472 362 Q480 372 480 390 Q478 412 470 425 Q455 445 440 451.5" stroke-width="2.2"/>
<!-- plug box left of outlet -->
<path d="M416.2 359.4 L433.3 369.5 L413.2 402.8 L395 393.7 Z" stroke-width="2.6" fill="#fff"/>
<path d="M409 390 L421 367 M405 389 L417 366 M401 387 L413 365" stroke-width="1.1"/>
<path d="M395 393.7 L388 405 L405 414 L413.2 402.8" stroke-width="2.2" fill="#fff"/>
<!-- small circle -->
<circle cx="421.2" cy="331.2" r="11" stroke-width="2.5" fill="#fff"/>
</g>

<!-- bottom fitting -->
<g id="fittings">
<path d="M372 464 Q364 470 362 480 Q362 494 368 500.5 Q376 507 386 506.5 Q400 504 406.5 494.4 Q411 486 409.5 478.3 Q407 468 400 462 Z" stroke-width="2.8" fill="#fff"/>
<path d="M366 482 Q368 494 378 500 Q388 503 398 499 M369 476 Q373 490 383 494 Q393 496 402 490 M372 470 Q377 482 387 486 Q396 487 404 482" stroke-width="1.1"/>
<path d="M362 480 Q366 470 375 465" stroke-width="4"/>
<!-- left fitting cup -->
<path d="M318.4 420 L320.4 440.5 Q324 446.6 330.5 446.6 L350.6 446.6 Q356.6 445 357 440.5 L358.7 418" stroke-width="2.8" fill="#fff"/>
<path d="M324 428 Q330 438 345 438 Q352 437 354 430 M326 434 Q333 442 347 442" stroke-width="1.1"/>
</g>
<!-- pump side bracket -->
<g id="bracket">
<path d="M233.6 380 L248.5 375.4 L248.5 385.6 L239.9 385.6" stroke-width="2.6" fill="#fff"/>
<path d="M235.2 382.5 L237.5 419" stroke-width="3.2"/>
<path d="M240 386 L241 418" stroke-width="1.1"/>
<path d="M257.2 366 Q255 385 256.4 390 Q257 405 258.7 417" stroke-width="2.8"/>
<path d="M279.2 355 Q274 375 274.5 387.2 Q274 400 276 412" stroke-width="2.8"/>
<path d="M284 353 Q279 385 281 410 M288 352 Q283 385 285 410" stroke-width="1.1"/>
</g>
<!-- arch hose -->
<g id="archhose">
<path d="M224 372 C245 358 270 346 306 341 C330 339 348 350 360 368 C372 386 375 405 377 420 C380 438 386 452 388 468" stroke-width="19" stroke-linecap="butt"/>
<path d="M220 375 C245 358 270 346 306 341 C330 339 348 350 360 368 C372 386 375 405 377 420 C380 438 386 452 388 468" stroke-width="14.5" stroke="#fff" stroke-linecap="butt"/>
<path d="M369 421 L390 418 M371 429 L393 426 M373 437 L396 434 M375 445 L398 442" stroke-width="1.3"/>
<path d="M368.7 418.4 L377 450 M388.9 416.3 L400 450" stroke-width="2.2"/>
<path d="M376.5 447 L378 470 Q381 481 392 481 Q404 480 405 468 L401 447 Z" stroke-width="2.6" fill="#fff"/>
<circle cx="396" cy="467" r="3.5" stroke-width="1.2"/>
</g>
<!-- straight hose -->
<g id="straighthose">
<path d="M224 427 L300 414 L322 410" stroke-width="17" stroke-linecap="butt"/>
<path d="M220 428 L300 414 L322 410" stroke-width="12.5" stroke="#fff" stroke-linecap="butt"/>
<path d="M298 402 L338.5 395.2 Q347 395 350.6 398.2 Q356.6 404 356.6 410.3 L356.6 418.4 Q354 421 350.6 420.4 L296.2 426.4 Z" stroke-width="2.6" fill="#fff"/>
<path d="M304 401 L306 425 M310 400 L312 424 M318 399 L320 423 M324 398 L326 422" stroke-width="1.2"/>
<path d="M338 420 L341 428" stroke-width="1.2"/>
<circle cx="342.5" cy="403.3" r="3.8" stroke-width="1.2"/>
</g>
<path d="M222.5 361 L221.5 383 M224.5 419 L226.5 436" stroke-width="3"/>
<!-- long hose -->
<g>
<path d="M573 95 C550 122 505 184 480 234 C463 268 446 312 443 346 C441 362 442 374 444 380" stroke-width="17"/>
<path d="M573 95 C550 122 505 184 480 234 C463 268 446 312 443 346 C441 362 442 374 444 380" stroke-width="11.5" stroke="#fff"/>
<path d="M543 120 L555 97 Q564 81 577 78.5 Q589 80 589.5 92 Q588 104 578 111 L565 118 L558 125 Z" fill="#fff" stroke="none"/>
<path d="M541 125 L556 95 Q565 81 577 78.5 Q589 80 589.5 92 Q588 104 578 111 Q569 116 563 119 L557 128" stroke-width="3"/>
<path d="M565 114 Q572 100 583 96 Q588 96 585 103 Q578 112 565 114 Z" stroke-width="1.1"/>
</g>
<g id="conn1" stroke-width="2.6" fill="#d4d4d4">
<!-- rail -->
<path d="M336 138 L462 119 L462 129 L344 157.5 Z"/>
<path d="M409 107 L462 99 L462 119 L409 122 Z"/>
<path d="M409.4 113.8 L462 106.5 M409.4 119.2 L462 113.8" fill="none" stroke-width="2"/>
<!-- right step block -->
<path d="M399.5 77 L431 72 L434.8 77.6 L453 97.5 L462 99 L409.4 107.4 L408.5 86.6 Z"/>
<path d="M400.4 79.4 L433 75.8" fill="none" stroke-width="1.5"/>
<!-- main block -->
<path d="M318 67 L377 56 L408.5 86.6 L409.4 122 L342 138 L339.4 97.5 Z"/>
<path d="M339.4 97.5 L408.5 86.6" fill="none" stroke-width="1.8"/>
<path d="M316.5 69.4 L339.4 97.5" fill="none" stroke-width="1.2"/>
<!-- plug -->
<path d="M283 95 L329 89.6 L340.3 97.5 L342 145 L302.4 150.4 L288.3 125.7 Z"/>
<path d="M283 95.8 L293.6 108 L300.6 138 L302.4 150.4 L288.3 125.7 Z" fill="#9a9a9a" stroke-width="2.4"/>
<path d="M286.6 101 L334 100 M291.8 110 L336 107 M297 118.7 L339 114 M302.4 134.5 L341 130" fill="none" stroke-width="2.8"/>
<path d="M302.4 150.4 L343 157.4" fill="none"/>
<path d="M312.5 71 L312.5 89" fill="none" stroke-width="3"/>
</g>
<!-- grommet -->
<g stroke-width="2.6" fill="#fff">
<path d="M498 61.3 Q510 59 530.8 60 Q538 64 539.6 75 Q541.5 90 540.8 100.3 Q539 114 534.5 125.5 Q531 137 529.5 143 Q522 153 513 157 Q500 158 491.7 154.5 Q484 149 481.6 141.9 L484 70 Q488 62 498 61.3 Z"/>
<path d="M462.7 95.3 Q466 80 475.3 77 L496.8 72 Q503 72 503 80 L500.5 140.6 L474 139.3 Q465 136 464 128 Z"/>
</g>
<g stroke-width="1.1">
<path d="M505.6 70 Q508 100 503 140.6 M515.6 75 Q516 110 510.6 135.6 M522 68 Q536 80 533 95 Q530 108 523 115.4 M470 103 Q467 115 470 130 M485 90 L500 90"/>
</g>
<!-- bracket between grommet and hose -->
<path d="M539 100.3 L554 100.3 M532.6 118 L542.7 118" stroke-width="2.5"/>
<!-- small connector -->
<g stroke-width="2.6" fill="#fff">
<path d="M182.5 166.4 L234.9 154.1 Q241 168 243 182.7 L244.7 215.5 L199.7 230.2 L189.9 230.2 L180 207.3 L182.5 176.2 Z"/>
<path d="M182.5 176.2 L170.2 177.8 L170.2 205 L183 206" />
<path d="M130.9 206 Q138 195 145.6 194.2 Q155 191 162 192.6 Q168 197 168.6 202.4 Q168 210 163.7 213.8 L158.7 217 Q150 209 140 207.5 Z" fill="#e0e0e0"/>
</g>
<g stroke-width="1.1">
<path d="M137 204 L160 200 M150 196 L165 208"/>
<path d="M186 173 L238 163 M173 184 L240 172 M186 192 L241 182 M190 202 L242 193 M196 212 L243 204 M199 222 L244 213"/>
<path d="M210 168 L211 188 M222 165 L224 180 M200 200 L204 226 M215 195 L218 222" stroke="#666"/>
</g>
<path d="M170.2 192.5 L193 192.5" stroke-width="4.5"/>
<path d="M171.8 198.5 L199.7 198.5" stroke-width="1.5"/>
<path d="M172 204 L184 205" stroke-width="3.5"/>

<g id="left">
<!-- left component -->
<path d="M29 223 L44 208 L146 207.5 Q155 208 160 219 L162 235 L163 270 L159 318 L120 340 L60 360 Q45 345 38.4 326.7 L33 300 L30 281" stroke-width="3" fill="#fff"/>
<!-- loop -->
<path d="M52.6 354.2 C54.7 344.8 59.4 331.1 65.2 322.7 C71 314.3 79.4 308.3 87.2 303.9 C95 299.4 103.9 296.5 112.3 296 C120.7 295.5 129.6 297.8 137.5 300.7 C145.4 303.6 152.2 307 159.5 313.3 C166.8 319.6 174.8 330.1 181.6 338.5 C188.4 346.9 195.2 354.7 200.4 363.6 C205.6 372.5 210.6 382 213 392 C215.4 402 216.2 413.4 214.6 423.4 C213 433.3 209.1 443.8 203.6 451.7 C198.1 459.6 190.5 466.4 181.6 470.6 C172.7 474.8 160.6 477.9 150.1 476.9 C139.6 475.8 128.6 471.1 118.6 464.3 C108.6 457.5 99.2 446 90.3 436 C81.4 426 71.5 413.9 65.2 404.5 C58.9 395.1 54.7 387.8 52.6 379.4 C50.5 371 50.5 363.6 52.6 354.2Z" stroke-width="3" fill="#fff"/>
<path d="M69.9 363.6 C70.4 355.2 73.2 345.3 77.7 338.5 C82.2 331.7 90.3 326.4 96.6 322.7 C102.9 319 108.7 317 115.5 316.5 C122.3 316 130.2 316.5 137.5 319.6 C144.8 322.7 152.7 328.5 159.5 335.3 C166.3 342.1 173.2 352.6 178.4 360.5 C183.7 368.4 187.8 375.2 191 382.5 C194.2 389.8 196.8 397.1 197.3 404.5 C197.8 411.9 198.3 419.8 194.1 426.6 C189.9 433.4 180.5 440.7 172.1 445.4 C163.7 450.1 153.2 455.4 143.8 454.9 C134.4 454.4 124.4 449.1 115.5 442.3 C106.6 435.5 97.1 422.9 90.3 414 C83.5 405.1 78 397.2 74.6 388.8 C71.2 380.4 69.4 372 69.9 363.6Z" stroke-width="1.2"/>
<!-- cable plug -->
<path d="M124.9 403 L124.9 398.6 Q126 391 133 386 Q143.6 381 150.2 384.3 L153.5 389.8 L185.5 429.5 L182.2 433.9 L185.5 436 L196.5 453.7 L207.5 460.3 L212 469 L220.7 484.5 L212 493.3 L198.7 506.6 L181 480 L174.5 471.3 L161.3 453.7 Z" stroke-width="3" fill="#fff"/>
<path d="M130 404 Q140 402 146 392 Q150 386 148 383" stroke-width="1.1"/>
<path d="M181 480 L207.5 460.3 M187.7 489 L216.3 469" stroke-width="2"/>
<path d="M168 451.5 Q176 446 181 440.5" stroke-width="1.1"/>
<!-- collar + corrugated -->
<path d="M202 503 L228 497 L239 538 L241 550 L218 551 L214 541 Z" stroke-width="2.6" fill="#fff"/>
<path d="M213 532 L237 527 M214 537 L238 532 M215 542 L239 537 M216 547 L240 542" stroke-width="1.6" stroke="#555"/>
<circle cx="199.4" cy="513.5" r="2.5" fill="#000" stroke="none"/>
<circle cx="210" cy="539" r="2.5" fill="#000" stroke="none"/>
<path d="M218 551 L241 550 L246 562 L230.2 584.3 L215 585 L214 560 Z" stroke-width="2.6" fill="#fff"/>
<path d="M228.6 584.4 L237.7 590.5 L228.6 599.5" stroke-width="2.5"/>
<!-- bottom-left lines -->
<path d="M112.2 462 L112.2 589" stroke-width="1.2"/>
<path d="M29 593.5 L112.2 589" stroke-width="1.2"/>
<path d="M38 599.5 L110 591" stroke-width="0.8" stroke="#888"/>
<path d="M68.4 599 L189.3 589 L228.6 584.4" stroke-width="3.2"/>
<path d="M95.6 597 L96 602 M119.8 595 L121 602 M150 592 L152 602 M169.6 590.5 L171 602" stroke-width="2.2"/>
<path d="M243.7 548 L262 570 M246 563 L262 585 M240 580 L262 600" stroke-width="1.1"/>
</g>

</g>
<rect x="27.25" y="17.25" width="735.5" height="588" fill="none" stroke="#000" stroke-width="4.5"/>
<rect x="590" y="537.5" width="142.5" height="39" fill="#fff" stroke="#000" stroke-width="3"/>
<text x="607" y="566" font-family="Liberation Sans, sans-serif" font-size="23.5" fill="#2a2a2a" textLength="104" lengthAdjust="spacingAndGlyphs">A24-0783</text>
<path d="M195.4 35 L201.4 35 L201.4 64 L195.4 64 L195.4 44.4 L187.2 44.4 L187.2 39.8 Q193 39 195.4 35 Z" fill="#000"/>
<path d="M208 48 H281 L335 80" fill="none" stroke="#000" stroke-width="2.2"/>

</svg>
</body></html>
